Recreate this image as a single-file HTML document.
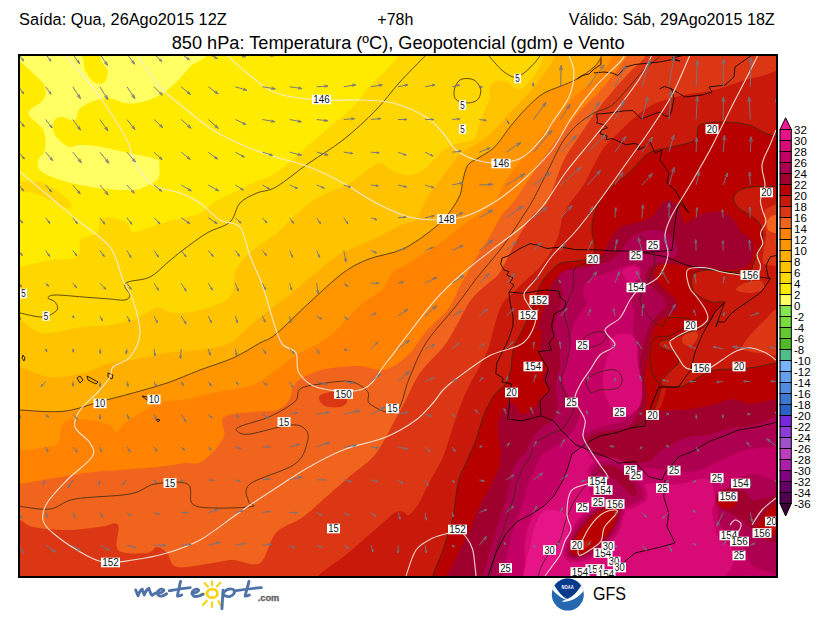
<!DOCTYPE html><html><head><meta charset="utf-8"><title>850 hPa</title><style>html,body{margin:0;padding:0;background:#fff}svg{display:block}</style></head><body>
<svg width="828" height="618" viewBox="0 0 828 618" font-family="'Liberation Sans', sans-serif">
<defs><clipPath id="m"><rect x="20" y="56" width="756" height="520"/></clipPath></defs>
<rect width="828" height="618" fill="#fff"/>
<g clip-path="url(#m)">
<rect x="10" y="46" width="780" height="544" fill="#ffeb00"/>
<path d="M18.3,53.3 C27.7,52.1 64.9,50.6 76.0,53.3 C87.1,56.1 82.1,65.2 85.0,70.0 C87.9,74.8 90.5,79.9 93.7,82.0 C96.8,84.1 101.6,84.3 104.0,82.7 C106.4,81.0 107.5,76.9 108.0,72.0 C108.5,67.1 91.4,56.4 107.0,53.3 C122.6,50.2 187.8,51.1 201.7,53.3 C215.5,55.6 194.2,61.9 190.0,66.7 C185.8,71.4 181.7,76.9 176.7,81.7 C171.7,86.4 165.6,91.7 160.0,95.0 C154.4,98.3 148.9,100.3 143.3,101.7 C137.8,103.1 132.2,103.9 126.7,103.3 C121.1,102.8 115.0,98.9 110.0,98.3 C105.0,97.8 101.7,98.3 96.7,100.0 C91.7,101.7 83.6,105.0 80.0,108.3 C76.4,111.7 78.3,118.6 75.0,120.0 C71.7,121.4 63.6,116.1 60.0,116.7 C56.4,117.2 54.2,120.3 53.3,123.3 C52.5,126.4 52.5,131.1 55.0,135.0 C57.5,138.9 64.2,145.0 68.3,146.7 C72.5,148.3 74.7,145.0 80.0,145.0 C85.3,145.0 91.1,145.2 100.0,146.7 C108.9,148.2 123.9,151.9 133.3,154.0 C142.8,156.1 152.3,157.5 156.7,159.3 C161.0,161.2 159.1,161.8 159.3,165.0 C159.6,168.2 160.2,175.0 158.3,178.3 C156.5,181.7 152.5,183.1 148.3,185.0 C144.2,186.9 141.4,189.4 133.3,190.0 C125.3,190.6 111.1,189.7 100.0,188.3 C88.9,186.9 76.4,184.4 66.7,181.7 C56.9,178.9 46.4,175.3 41.7,171.7 C36.9,168.1 37.8,163.6 38.3,160.0 C38.9,156.4 44.2,155.0 45.0,150.0 C45.8,145.0 46.1,136.1 43.3,130.0 C40.6,123.9 28.3,118.3 28.3,113.3 C28.3,108.3 40.6,104.4 43.3,100.0 C46.1,95.6 46.7,91.1 45.0,86.7 C43.3,82.2 37.5,77.7 33.3,73.3 C29.2,69.0 22.5,64.0 20.0,60.7 C17.5,57.3 9.0,54.6 18.3,53.3Z" fill="#ffff64"/>
<path d="M10.0,267.0 C11.7,267.0 13.3,268.2 20.0,267.0 C26.7,265.8 40.5,261.7 50.0,260.0 C59.5,258.3 72.0,260.3 77.0,257.0 C82.0,253.7 77.8,243.5 80.0,240.0 C82.2,236.5 87.0,237.3 90.0,236.0 C93.0,234.7 96.3,234.7 98.0,232.0 C99.7,229.3 98.0,222.5 100.0,220.0 C102.0,217.5 105.5,216.5 110.0,217.0 C114.5,217.5 123.2,220.5 127.0,223.0 C130.8,225.5 129.2,231.3 133.0,232.0 C136.8,232.7 143.3,229.0 150.0,227.0 C156.7,225.0 164.7,222.3 173.0,220.0 C181.3,217.7 192.7,216.3 200.0,213.0 C207.3,209.7 211.5,203.3 217.0,200.0 C222.5,196.7 227.0,195.8 233.0,193.0 C239.0,190.2 245.8,186.3 253.0,183.0 C260.2,179.7 267.7,178.5 276.0,173.0 C284.3,167.5 294.7,157.2 303.0,150.0 C311.3,142.8 317.7,137.2 326.0,130.0 C334.3,122.8 345.8,114.2 353.0,107.0 C360.2,99.8 363.5,93.2 369.0,87.0 C374.5,80.8 381.0,75.3 386.0,70.0 C391.0,64.7 396.3,59.0 399.0,55.0 C401.7,51.0 401.5,47.5 402.0,46.0 L790.0,46.0 L790.0,590.0 L10.0,590.0Z" fill="#ffd700"/>
<path d="M10.0,183.0 C15.5,181.8 33.0,179.8 43.0,183.0 C53.0,186.2 66.0,197.8 70.0,202.0 C74.0,206.2 70.3,208.3 67.0,208.0 C63.7,207.7 55.7,202.5 50.0,200.0 C44.3,197.5 39.7,194.7 33.0,193.0 C26.3,191.3 13.8,191.7 10.0,190.0 C6.2,188.3 4.5,184.2 10.0,183.0Z" fill="#ffd700"/>
<path d="M10.0,320.0 C11.7,320.0 14.5,317.8 20.0,320.0 C25.5,322.2 32.5,331.8 43.0,333.0 C53.5,334.2 71.8,328.3 83.0,327.0 C94.2,325.7 101.7,326.2 110.0,325.0 C118.3,323.8 125.2,322.8 133.0,320.0 C140.8,317.2 150.3,309.2 157.0,308.0 C163.7,306.8 165.8,312.7 173.0,313.0 C180.2,313.3 190.5,312.7 200.0,310.0 C209.5,307.3 224.0,303.7 230.0,297.0 C236.0,290.3 232.2,277.8 236.0,270.0 C239.8,262.2 246.3,256.0 253.0,250.0 C259.7,244.0 269.1,239.7 276.0,234.0 C282.9,228.3 288.3,221.6 294.5,216.0 C300.7,210.4 307.2,204.4 313.0,200.5 C318.8,196.6 323.2,195.2 329.0,192.5 C334.8,189.8 341.5,188.1 347.7,184.5 C353.9,180.9 360.7,174.6 366.0,171.0 C371.3,167.4 375.0,163.0 379.5,163.0 C384.0,163.0 388.1,169.0 393.0,171.0 C397.9,173.0 404.0,175.2 409.0,175.0 C414.0,174.8 418.7,172.7 423.0,170.0 C427.3,167.3 431.3,162.5 435.0,159.0 C438.7,155.5 441.2,151.7 445.0,149.0 C448.8,146.3 453.2,144.7 458.0,143.0 C462.8,141.3 470.7,141.5 474.0,139.0 C477.3,136.5 476.5,132.2 478.0,128.0 C479.5,123.8 481.2,118.7 483.0,114.0 C484.8,109.3 487.8,104.5 489.0,100.0 C490.2,95.5 488.7,90.2 490.0,87.0 C491.3,83.8 493.8,81.7 497.0,81.0 C500.2,80.3 505.8,81.7 509.0,83.0 C512.2,84.3 513.5,88.3 516.0,89.0 C518.5,89.7 520.7,89.7 524.0,87.0 C527.3,84.3 532.7,78.2 536.0,73.0 C539.3,67.8 542.3,60.5 544.0,56.0 C545.7,51.5 545.7,47.7 546.0,46.0 L790.0,46.0 L790.0,590.0 L10.0,590.0Z" fill="#ffc300"/>
<path d="M10.0,367.0 C11.7,367.0 13.3,365.3 20.0,367.0 C26.7,368.7 39.5,376.0 50.0,377.0 C60.5,378.0 73.0,375.3 83.0,373.0 C93.0,370.7 101.7,365.2 110.0,363.0 C118.3,360.8 123.5,361.7 133.0,360.0 C142.5,358.3 155.8,354.7 167.0,353.0 C178.2,351.3 189.5,351.7 200.0,350.0 C210.5,348.3 221.2,347.5 230.0,343.0 C238.8,338.5 245.3,329.3 253.0,323.0 C260.7,316.7 269.1,310.3 276.0,305.0 C282.9,299.7 288.3,296.0 294.5,291.0 C300.7,286.0 305.9,280.8 313.0,275.0 C320.1,269.2 330.3,260.5 337.0,256.0 C343.7,251.5 347.2,250.7 353.0,248.0 C358.8,245.3 365.9,242.7 371.6,240.0 C377.4,237.3 382.2,234.7 387.5,232.0 C392.8,229.3 398.6,226.2 403.5,224.0 C408.4,221.8 412.8,223.3 416.7,219.0 C420.6,214.7 422.6,205.2 427.0,198.0 C431.4,190.8 438.3,182.3 443.0,176.0 C447.7,169.7 451.2,164.3 455.0,160.0 C458.8,155.7 462.2,152.8 466.0,150.0 C469.8,147.2 473.5,146.1 478.0,143.0 C482.5,139.9 487.9,136.3 493.0,131.5 C498.1,126.7 503.5,119.5 508.7,114.0 C513.9,108.5 519.5,103.3 524.0,98.5 C528.5,93.7 532.1,89.8 536.0,85.0 C539.9,80.2 544.4,74.2 547.6,69.4 C550.8,64.6 553.3,59.9 555.0,56.0 C556.7,52.1 557.5,47.7 558.0,46.0 L790.0,46.0 L790.0,590.0 L10.0,590.0Z" fill="#ffaf00"/>
<path d="M10.0,410.0 C11.7,410.0 13.3,409.7 20.0,410.0 C26.7,410.3 41.4,411.7 50.0,411.7 C58.6,411.7 63.4,411.7 71.7,410.0 C80.0,408.3 89.8,404.5 100.0,401.7 C110.2,398.9 121.8,396.1 133.0,393.0 C144.2,389.9 155.8,386.8 167.0,383.0 C178.2,379.2 189.0,374.2 200.0,370.0 C211.0,365.8 223.0,362.5 233.0,358.0 C243.0,353.5 252.8,347.0 260.0,343.0 C267.2,339.0 267.8,340.7 276.0,334.0 C284.2,327.3 297.8,313.2 309.0,303.0 C320.2,292.8 333.0,280.3 343.0,273.0 C353.0,265.7 359.0,263.0 369.0,259.0 C379.0,255.0 392.3,254.0 403.0,249.0 C413.7,244.0 425.3,235.0 433.0,229.0 C440.7,223.0 444.5,218.7 449.0,213.0 C453.5,207.3 457.7,200.5 460.0,195.0 C462.3,189.5 461.7,185.0 463.0,180.0 C464.3,175.0 465.2,168.8 468.0,165.0 C470.8,161.2 475.6,160.0 480.0,157.0 C484.4,154.0 489.4,152.3 494.6,147.0 C499.9,141.7 505.9,131.8 511.5,125.0 C517.1,118.2 523.2,111.2 528.5,106.0 C533.8,100.8 537.8,97.0 543.0,93.7 C548.2,90.4 554.3,88.9 560.0,86.4 C565.7,84.0 571.3,82.2 577.0,79.0 C582.7,75.8 590.0,70.7 594.0,67.0 C598.0,63.3 599.3,60.5 601.0,57.0 C602.7,53.5 603.5,47.8 604.0,46.0 L790.0,46.0 L790.0,590.0 L10.0,590.0Z" fill="#ff9600"/>
<path d="M10.0,451.0 C11.7,451.0 14.2,451.7 20.0,451.0 C25.8,450.3 38.7,448.3 45.0,447.0 C51.3,445.7 55.0,446.8 58.0,443.0 C61.0,439.2 59.7,428.0 63.0,424.0 C66.3,420.0 70.7,419.0 78.0,419.0 C85.3,419.0 100.6,421.9 107.0,424.0 C113.4,426.1 113.3,431.8 116.5,431.5 C119.7,431.2 121.2,425.6 126.0,422.0 C130.8,418.4 140.4,413.2 145.6,410.0 C150.8,406.8 150.1,404.8 157.0,403.0 C163.9,401.2 177.0,400.8 187.0,399.0 C197.0,397.2 206.0,394.3 217.0,392.0 C228.0,389.7 243.2,388.7 253.0,385.0 C262.8,381.3 268.8,375.0 276.0,370.0 C283.2,365.0 287.7,360.2 296.0,355.0 C304.3,349.8 318.2,344.3 326.0,339.0 C333.8,333.7 336.8,329.0 343.0,323.0 C349.2,317.0 356.3,308.7 363.0,303.0 C369.7,297.3 378.2,294.0 383.0,289.0 C387.8,284.0 387.7,277.3 392.0,273.0 C396.3,268.7 401.0,268.0 409.0,263.0 C417.0,258.0 432.4,248.2 440.0,243.0 C447.6,237.8 449.2,235.5 454.5,231.5 C459.8,227.5 465.8,223.1 471.5,219.0 C477.2,214.9 484.2,210.5 488.5,207.0 C492.8,203.5 494.1,202.5 497.0,198.0 C499.9,193.5 502.0,186.3 506.0,180.0 C510.0,173.7 516.0,166.3 521.0,160.0 C526.0,153.7 530.7,148.5 536.0,142.0 C541.3,135.5 547.3,127.8 553.0,121.0 C558.7,114.2 564.3,106.8 570.0,101.0 C575.7,95.2 581.8,90.5 587.0,86.0 C592.2,81.5 596.8,78.8 601.0,74.0 C605.2,69.2 609.7,61.7 612.0,57.0 C614.3,52.3 614.5,47.8 615.0,46.0 L790.0,46.0 L790.0,590.0 L10.0,590.0Z" fill="#ff8200"/>
<path d="M10.0,484.0 C11.7,484.0 13.6,484.8 20.0,484.0 C26.4,483.2 39.7,480.5 48.5,479.0 C57.3,477.5 64.9,476.2 73.0,475.0 C81.1,473.8 89.0,472.4 97.0,471.6 C105.0,470.8 112.9,470.6 121.0,470.0 C129.1,469.4 137.4,468.8 145.6,468.0 C153.8,467.2 163.5,466.3 170.0,465.5 C176.5,464.7 179.7,463.4 184.5,463.0 C189.3,462.6 194.4,464.7 199.0,463.0 C203.6,461.3 207.8,457.5 212.0,453.0 C216.2,448.5 222.0,442.0 224.0,436.0 C226.0,430.0 219.2,421.0 224.0,417.0 C228.8,413.0 244.2,413.2 253.0,412.0 C261.8,410.8 271.0,412.0 277.0,410.0 C283.0,408.0 286.3,403.7 289.0,400.0 C291.7,396.3 290.8,391.7 293.0,388.0 C295.2,384.3 296.5,381.2 302.0,378.0 C307.5,374.8 316.5,371.0 326.0,369.0 C335.5,367.0 350.2,365.8 359.0,366.0 C367.8,366.2 373.8,369.7 379.0,370.0 C384.2,370.3 386.3,369.5 390.0,368.0 C393.7,366.5 397.2,364.0 401.0,361.0 C404.8,358.0 408.8,354.5 412.6,350.0 C416.4,345.5 420.3,338.6 424.0,334.0 C427.7,329.4 431.2,326.4 435.0,322.6 C438.8,318.8 443.8,314.9 447.0,311.0 C450.2,307.1 451.8,303.2 454.0,299.0 C456.2,294.8 457.7,290.5 460.0,286.0 C462.3,281.5 465.0,277.2 468.0,272.0 C471.0,266.8 474.5,260.7 478.0,255.0 C481.5,249.3 485.2,244.3 489.0,238.0 C492.8,231.7 496.4,223.3 500.7,217.0 C505.0,210.7 510.1,206.5 515.0,200.0 C519.9,193.5 525.0,185.3 530.0,178.0 C535.0,170.7 539.7,163.5 545.0,156.0 C550.3,148.5 556.2,140.5 562.0,133.0 C567.8,125.5 574.0,117.7 580.0,111.0 C586.0,104.3 592.3,99.2 598.0,93.0 C603.7,86.8 609.3,80.0 614.0,74.0 C618.7,68.0 623.5,61.7 626.0,57.0 C628.5,52.3 628.5,47.8 629.0,46.0 L790.0,46.0 L790.0,590.0 L10.0,590.0Z" fill="#f0641e"/>
<path d="M319.0,397.0 C319.8,394.7 325.8,392.5 330.0,392.0 C334.2,391.5 341.2,392.3 344.0,394.0 C346.8,395.7 347.7,399.8 347.0,402.0 C346.3,404.2 343.7,406.3 340.0,407.0 C336.3,407.7 328.5,407.7 325.0,406.0 C321.5,404.3 318.2,399.3 319.0,397.0Z" fill="#dc3714"/>
<path d="M10.0,520.0 C11.7,520.0 16.2,518.8 20.0,520.0 C23.8,521.2 25.2,525.3 33.0,527.0 C40.8,528.7 55.8,530.0 67.0,530.0 C78.2,530.0 91.5,527.8 100.0,527.0 C108.5,526.2 115.0,521.2 118.0,525.0 C121.0,528.8 113.2,545.3 118.0,550.0 C122.8,554.7 140.5,553.5 147.0,553.0 C153.5,552.5 153.7,547.0 157.0,547.0 C160.3,547.0 163.7,549.7 167.0,553.0 C170.3,556.3 169.3,565.3 177.0,567.0 C184.7,568.7 203.7,564.2 213.0,563.0 C222.3,561.8 225.2,560.0 233.0,560.0 C240.8,560.0 252.8,567.5 260.0,563.0 C267.2,558.5 268.8,540.7 276.0,533.0 C283.2,525.3 294.7,523.0 303.0,517.0 C311.3,511.0 318.3,503.7 326.0,497.0 C333.7,490.3 341.2,483.7 349.0,477.0 C356.8,470.3 366.8,463.7 373.0,457.0 C379.2,450.3 382.2,443.5 386.0,437.0 C389.8,430.5 392.8,423.8 396.0,418.0 C399.2,412.2 401.0,409.5 405.0,402.0 C409.0,394.5 413.5,382.3 420.0,373.0 C426.5,363.7 437.7,354.3 444.0,346.0 C450.3,337.7 453.7,330.5 458.0,323.0 C462.3,315.5 465.5,307.2 470.0,301.0 C474.5,294.8 480.3,290.3 485.0,286.0 C489.7,281.7 494.7,278.8 498.0,275.0 C501.3,271.2 502.8,267.0 505.0,263.0 C507.2,259.0 508.5,255.8 511.0,251.0 C513.5,246.2 516.3,240.0 520.0,234.0 C523.7,228.0 528.5,220.2 533.0,215.0 C537.5,209.8 543.2,208.8 547.0,203.0 C550.8,197.2 553.0,187.5 556.0,180.0 C559.0,172.5 561.0,165.5 565.0,158.0 C569.0,150.5 575.0,142.5 580.0,135.0 C585.0,127.5 589.7,120.2 595.0,113.0 C600.3,105.8 606.2,98.8 612.0,92.0 C617.8,85.2 624.5,77.8 630.0,72.0 C635.5,66.2 642.0,61.3 645.0,57.0 C648.0,52.7 647.5,47.8 648.0,46.0 L790.0,46.0 L790.0,590.0 L10.0,590.0Z" fill="#dc3714"/>
<path d="M310.0,590.0 C311.5,587.5 313.5,580.5 319.0,575.0 C324.5,569.5 335.7,562.8 343.0,557.0 C350.3,551.2 355.8,546.2 363.0,540.0 C370.2,533.8 380.5,524.7 386.0,520.0 C391.5,515.3 393.0,513.3 396.0,512.0 C399.0,510.7 401.8,511.5 404.0,512.0 C406.2,512.5 406.5,516.5 409.0,515.0 C411.5,513.5 415.7,508.3 419.0,503.0 C422.3,497.7 425.0,490.7 429.0,483.0 C433.0,475.3 439.2,465.8 443.0,457.0 C446.8,448.2 449.2,438.3 452.0,430.0 C454.8,421.7 457.2,414.3 460.0,407.0 C462.8,399.7 465.5,393.2 469.0,386.0 C472.5,378.8 477.7,370.5 481.0,364.0 C484.3,357.5 486.7,353.7 489.0,347.0 C491.3,340.3 492.8,331.2 495.0,324.0 C497.2,316.8 499.0,309.2 502.0,304.0 C505.0,298.8 509.5,296.6 513.0,293.0 C516.5,289.4 519.0,286.3 523.0,282.5 C527.0,278.7 533.0,274.1 537.0,270.0 C541.0,265.9 544.2,262.0 547.0,258.0 C549.8,254.0 552.0,250.0 554.0,246.0 C556.0,242.0 557.7,238.5 559.0,234.0 C560.3,229.5 560.2,224.2 562.0,219.0 C563.8,213.8 566.5,208.5 570.0,203.0 C573.5,197.5 579.0,192.3 583.0,186.0 C587.0,179.7 590.7,171.2 594.0,165.0 C597.3,158.8 599.3,154.0 603.0,149.0 C606.7,144.0 610.8,140.2 616.0,135.0 C621.2,129.8 628.0,123.0 634.0,118.0 C640.0,113.0 645.7,108.3 652.0,105.0 C658.3,101.7 665.7,99.8 672.0,98.0 C678.3,96.2 684.5,95.0 690.0,94.0 C695.5,93.0 699.2,93.2 705.0,92.0 C710.8,90.8 718.3,89.0 725.0,87.0 C731.7,85.0 738.3,82.0 745.0,80.0 C751.7,78.0 759.3,76.7 765.0,75.0 C770.7,73.3 774.8,71.2 779.0,70.0 C783.2,68.8 788.2,68.3 790.0,68.0 L790.0,590.0Z" fill="#c8190a"/>
<path d="M790.0,137.0 C788.2,137.0 783.2,137.7 779.0,137.0 C774.8,136.3 770.0,135.0 765.0,133.0 C760.0,131.0 755.7,126.8 749.0,125.0 C742.3,123.2 733.2,122.0 725.0,122.0 C716.8,122.0 705.0,122.0 700.0,125.0 C695.0,128.0 699.7,136.3 695.0,140.0 C690.3,143.7 679.7,144.8 672.0,147.0 C664.3,149.2 656.2,148.7 649.0,153.0 C641.8,157.3 636.3,166.3 629.0,173.0 C621.7,179.7 610.8,186.0 605.0,193.0 C599.2,200.0 596.2,208.5 594.0,215.0 C591.8,221.5 591.8,226.5 592.0,232.0 C592.2,237.5 595.3,243.7 595.0,248.0 C594.7,252.3 593.2,255.8 590.0,258.0 C586.8,260.2 580.8,260.2 576.0,261.0 C571.2,261.8 565.0,261.5 561.0,263.0 C557.0,264.5 555.2,266.8 552.0,270.0 C548.8,273.2 544.7,277.5 542.0,282.0 C539.3,286.5 538.0,291.7 536.0,297.0 C534.0,302.3 532.3,308.3 530.0,314.0 C527.7,319.7 524.8,325.0 522.0,331.0 C519.2,337.0 514.8,343.5 513.0,350.0 C511.2,356.5 512.3,364.2 511.0,370.0 C509.7,375.8 507.0,381.7 505.0,385.0 C503.0,388.3 501.0,388.0 499.0,390.0 C497.0,392.0 495.7,392.5 493.0,397.0 C490.3,401.5 485.8,409.8 483.0,417.0 C480.2,424.2 478.8,432.3 476.0,440.0 C473.2,447.7 469.0,455.8 466.0,463.0 C463.0,470.2 460.2,474.0 458.0,483.0 C455.8,492.0 455.5,505.8 453.0,517.0 C450.5,528.2 446.3,540.3 443.0,550.0 C439.7,559.7 435.2,568.3 433.0,575.0 C430.8,581.7 430.5,587.5 430.0,590.0 L790.0,590.0Z" fill="#b90000"/>
<path d="M613.0,235.0 C616.5,230.3 618.7,228.2 623.0,226.0 C627.3,223.8 634.0,223.7 639.0,222.0 C644.0,220.3 649.7,218.5 653.0,216.0 C656.3,213.5 656.5,209.7 659.0,207.0 C661.5,204.3 664.7,200.0 668.0,200.0 C671.3,200.0 676.2,203.2 679.0,207.0 C681.8,210.8 681.7,221.7 685.0,223.0 C688.3,224.3 694.5,216.8 699.0,215.0 C703.5,213.2 707.8,212.3 712.0,212.0 C716.2,211.7 720.3,211.7 724.0,213.0 C727.7,214.3 731.2,216.8 734.0,220.0 C736.8,223.2 737.8,228.3 741.0,232.0 C744.2,235.7 751.2,237.5 753.0,242.0 C754.8,246.5 753.2,254.8 752.0,259.0 C750.8,263.2 749.7,265.2 746.0,267.0 C742.3,268.8 735.7,269.7 730.0,270.0 C724.3,270.3 717.0,269.0 712.0,269.0 C707.0,269.0 704.5,270.5 700.0,270.0 C695.5,269.5 690.3,267.0 685.0,266.0 C679.7,265.0 672.7,263.8 668.0,264.0 C663.3,264.2 659.2,264.8 657.0,267.0 C654.8,269.2 654.0,273.5 655.0,277.0 C656.0,280.5 659.7,284.3 663.0,288.0 C666.3,291.7 672.7,295.7 675.0,299.0 C677.3,302.3 677.8,305.3 677.0,308.0 C676.2,310.7 673.0,312.8 670.0,315.0 C667.0,317.2 662.0,317.8 659.0,321.0 C656.0,324.2 653.7,329.0 652.0,334.0 C650.3,339.0 650.2,344.2 649.0,351.0 C647.8,357.8 645.3,367.0 645.0,375.0 C644.7,383.0 647.0,392.2 647.0,399.0 C647.0,405.8 642.7,414.0 645.0,416.0 C647.3,418.0 653.3,412.2 661.0,411.0 C668.7,409.8 682.0,410.2 691.0,409.0 C700.0,407.8 708.2,405.7 715.0,404.0 C721.8,402.3 726.0,399.0 732.0,399.0 C738.0,399.0 745.3,403.7 751.0,404.0 C756.7,404.3 761.8,401.8 766.0,401.0 C770.2,400.2 772.0,399.5 776.0,399.0 C780.0,398.5 787.7,366.2 790.0,398.0 C792.3,429.8 847.7,558.0 790.0,590.0 C732.3,622.0 501.2,592.4 444.0,590.0 C386.8,587.6 445.7,579.6 447.0,575.6 C448.3,571.6 449.6,570.9 452.0,566.0 C454.4,561.1 458.3,553.0 461.5,546.5 C464.7,540.0 467.8,534.2 471.0,527.0 C474.2,519.8 478.2,509.0 481.0,503.0 C483.8,497.0 485.6,495.3 487.8,491.2 C490.0,487.1 492.3,482.6 494.2,478.3 C496.1,474.0 498.3,469.6 499.4,465.3 C500.5,461.0 500.8,456.7 500.7,452.4 C500.6,448.1 499.2,443.5 498.8,439.4 C498.4,435.3 498.1,431.2 498.0,428.0 C497.9,424.8 497.8,422.7 498.5,420.0 C499.2,417.3 500.4,414.7 502.0,412.0 C503.6,409.3 506.3,405.6 508.0,404.0 C509.7,402.4 510.5,401.8 512.0,402.5 C513.5,403.2 515.5,406.1 517.0,408.0 C518.5,409.9 519.5,413.2 521.0,414.0 C522.5,414.8 524.2,413.8 526.0,413.0 C527.8,412.2 530.2,410.3 532.0,409.0 C533.8,407.7 535.7,406.5 537.0,405.0 C538.3,403.5 538.8,401.7 540.0,400.0 C541.2,398.3 542.5,396.7 544.0,395.0 C545.5,393.3 549.2,392.8 549.0,390.0 C548.8,387.2 543.3,382.5 543.0,378.5 C542.7,374.5 547.5,370.4 547.0,366.0 C546.5,361.6 540.8,358.0 540.0,352.0 C539.2,346.0 542.5,333.5 542.0,330.0 C541.5,326.5 537.0,333.7 537.0,331.0 C537.0,328.3 540.3,319.7 542.0,314.0 C543.7,308.3 545.5,301.8 547.0,297.0 C548.5,292.2 548.7,289.0 551.0,285.0 C553.3,281.0 557.7,275.8 561.0,273.0 C564.3,270.2 566.2,269.5 571.0,268.0 C575.8,266.5 584.8,266.3 590.0,264.0 C595.2,261.7 598.2,258.8 602.0,254.0 C605.8,249.2 609.5,239.7 613.0,235.0Z" fill="#a0002d"/>
<path d="M481.0,590.0 C429.8,587.6 481.5,582.1 483.0,575.6 C484.5,569.1 487.7,559.1 490.0,551.0 C492.3,542.9 494.5,535.0 497.0,527.0 C499.5,519.0 503.1,509.6 505.0,503.0 C506.9,496.4 507.5,492.1 508.5,487.3 C509.5,482.5 509.7,478.5 511.0,474.4 C512.3,470.3 513.8,466.4 516.2,462.7 C518.6,459.0 522.9,455.8 525.3,452.4 C527.7,448.9 528.8,445.2 530.5,442.0 C532.2,438.8 533.3,435.8 535.7,433.0 C538.1,430.2 542.1,427.7 545.0,425.5 C547.9,423.3 551.0,422.2 553.0,420.0 C555.0,417.8 556.2,414.8 557.0,412.0 C557.8,409.2 557.7,406.2 557.5,403.0 C557.3,399.8 556.2,397.1 556.0,393.0 C555.8,388.9 555.8,383.0 556.5,378.5 C557.2,374.0 559.6,371.6 560.0,366.0 C560.4,360.4 560.0,350.6 559.0,344.6 C558.0,338.6 554.3,335.3 554.0,330.0 C553.7,324.7 555.5,318.5 557.0,313.0 C558.5,307.5 562.5,303.5 563.0,297.0 C563.5,290.5 556.7,278.8 560.0,274.0 C563.3,269.2 575.2,270.0 583.0,268.0 C590.8,266.0 600.8,264.7 607.0,262.0 C613.2,259.3 616.5,255.5 620.0,252.0 C623.5,248.5 624.8,244.2 628.0,241.0 C631.2,237.8 634.5,234.8 639.0,233.0 C643.5,231.2 649.5,229.3 655.0,230.0 C660.5,230.7 668.2,233.7 672.0,237.0 C675.8,240.3 677.8,246.5 678.0,250.0 C678.2,253.5 676.0,256.0 673.0,258.0 C670.0,260.0 664.0,260.3 660.0,262.0 C656.0,263.7 651.3,265.5 649.0,268.0 C646.7,270.5 645.3,273.7 646.0,277.0 C646.7,280.3 650.0,284.3 653.0,288.0 C656.0,291.7 662.2,295.7 664.0,299.0 C665.8,302.3 666.0,304.3 664.0,308.0 C662.0,311.7 655.2,316.0 652.0,321.0 C648.8,326.0 647.0,331.0 645.0,338.0 C643.0,345.0 640.5,354.8 640.0,363.0 C639.5,371.2 642.0,379.8 642.0,387.0 C642.0,394.2 642.0,399.5 640.0,406.0 C638.0,412.5 634.2,422.0 630.0,426.0 C625.8,430.0 620.0,429.0 615.0,430.0 C610.0,431.0 604.5,430.8 600.0,432.0 C595.5,433.2 590.0,434.8 588.0,437.0 C586.0,439.2 585.8,441.9 588.0,445.0 C590.2,448.1 595.3,452.5 601.5,455.5 C607.7,458.5 617.1,462.1 625.0,463.0 C632.9,463.9 643.1,462.8 648.8,461.0 C654.5,459.2 655.6,454.5 659.0,452.0 C662.4,449.5 664.7,448.3 669.0,446.0 C673.3,443.7 679.3,439.7 685.0,438.0 C690.7,436.3 698.0,436.4 703.0,435.6 C708.0,434.8 710.2,434.3 715.0,433.0 C719.8,431.7 726.0,429.2 732.0,428.0 C738.0,426.8 745.3,427.2 751.0,426.0 C756.7,424.8 761.8,422.7 766.0,421.0 C770.2,419.3 772.0,417.2 776.0,416.0 C780.0,414.8 787.7,385.0 790.0,414.0 C792.3,443.0 841.5,560.7 790.0,590.0 C738.5,619.3 532.2,592.4 481.0,590.0Z" fill="#ae0050"/>
<path d="M501.0,590.0 C453.2,587.6 501.8,582.1 503.0,575.6 C504.2,569.1 506.2,559.1 508.0,551.0 C509.8,542.9 511.5,535.0 514.0,527.0 C516.5,519.0 520.7,510.1 523.0,503.0 C525.3,495.9 526.2,489.5 527.9,484.7 C529.6,479.9 531.5,477.8 533.0,474.4 C534.5,470.9 535.3,467.4 537.0,464.0 C538.7,460.6 540.8,456.3 543.4,453.7 C546.0,451.1 549.4,450.6 552.5,448.5 C555.6,446.4 558.8,443.8 562.0,441.0 C565.2,438.2 569.0,436.3 572.0,432.0 C575.0,427.7 579.3,419.8 580.0,415.0 C580.7,410.2 577.9,406.2 576.0,403.0 C574.1,399.8 570.8,399.6 568.6,395.5 C566.4,391.4 563.3,384.1 563.0,378.5 C562.7,372.9 566.0,367.2 567.0,361.6 C568.0,356.0 568.2,349.9 569.0,344.6 C569.8,339.3 570.8,334.1 572.0,330.0 C573.2,325.9 574.3,323.2 576.0,320.0 C577.7,316.8 580.2,313.8 582.0,311.0 C583.8,308.2 586.8,305.7 587.0,303.0 C587.2,300.3 583.2,298.3 583.0,295.0 C582.8,291.7 583.7,286.2 586.0,283.0 C588.3,279.8 593.0,277.8 597.0,276.0 C601.0,274.2 605.8,273.5 610.0,272.0 C614.2,270.5 617.8,268.3 622.0,267.0 C626.2,265.7 631.8,263.7 635.0,264.0 C638.2,264.3 640.3,266.5 641.0,269.0 C641.7,271.5 640.7,276.5 639.0,279.0 C637.3,281.5 632.7,281.7 631.0,284.0 C629.3,286.3 628.8,289.8 629.0,293.0 C629.2,296.2 631.2,299.0 632.0,303.0 C632.8,307.0 633.8,312.3 634.0,317.0 C634.2,321.7 632.7,326.3 633.0,331.0 C633.3,335.7 635.5,339.8 636.0,345.0 C636.5,350.2 635.7,357.0 636.0,362.0 C636.3,367.0 637.3,370.3 638.0,375.0 C638.7,379.7 640.2,384.5 640.0,390.0 C639.8,395.5 639.5,403.0 637.0,408.0 C634.5,413.0 630.3,417.0 625.0,420.0 C619.7,423.0 611.2,424.0 605.0,426.0 C598.8,428.0 591.7,429.7 588.0,432.0 C584.3,434.3 582.7,436.7 583.0,440.0 C583.3,443.3 587.0,448.3 590.0,452.0 C593.0,455.7 595.2,459.0 601.0,462.0 C606.8,465.0 617.0,469.0 625.0,470.0 C633.0,471.0 643.0,468.0 649.0,468.0 C655.0,468.0 655.8,469.3 661.0,470.0 C666.2,470.7 673.5,472.0 680.0,472.0 C686.5,472.0 694.2,471.5 700.0,470.0 C705.8,468.5 710.3,465.2 715.0,463.0 C719.7,460.8 723.5,459.0 728.0,457.0 C732.5,455.0 736.7,452.5 742.0,451.0 C747.3,449.5 754.3,448.7 760.0,448.0 C765.7,447.3 771.0,447.3 776.0,447.0 C781.0,446.7 787.7,422.2 790.0,446.0 C792.3,469.8 838.2,566.0 790.0,590.0 C741.8,614.0 548.8,592.4 501.0,590.0Z" fill="#c40064"/>
<path d="M527.0,590.0 C493.8,587.6 527.4,581.3 527.0,575.6 C526.6,569.9 525.0,561.9 524.7,556.0 C524.4,550.1 524.3,545.2 525.0,540.0 C525.7,534.8 527.3,529.5 529.0,525.0 C530.7,520.5 532.5,516.2 535.0,513.0 C537.5,509.8 540.8,508.8 544.0,506.0 C547.2,503.2 550.7,500.5 554.0,496.0 C557.3,491.5 561.4,483.8 563.7,479.0 C566.0,474.2 566.6,471.2 568.0,467.0 C569.4,462.8 569.8,457.1 572.0,453.8 C574.2,450.5 578.2,446.3 581.5,447.0 C584.8,447.7 588.4,454.2 592.0,458.0 C595.6,461.8 599.7,465.0 603.0,470.0 C606.3,475.0 608.2,485.3 612.0,488.0 C615.8,490.7 621.3,486.5 626.0,486.0 C630.7,485.5 635.3,485.5 640.0,485.0 C644.7,484.5 649.5,483.0 654.0,483.0 C658.5,483.0 661.8,485.0 667.0,485.0 C672.2,485.0 679.0,484.1 685.0,483.0 C691.0,481.9 698.4,478.2 703.0,478.5 C707.6,478.8 710.5,481.6 712.5,485.0 C714.5,488.4 715.0,494.4 715.0,499.0 C715.0,503.6 712.5,508.0 712.5,512.5 C712.5,517.0 713.9,521.4 715.0,526.0 C716.1,530.6 716.4,536.6 719.0,540.0 C721.6,543.4 727.9,543.5 730.6,546.5 C733.3,549.5 735.0,554.2 735.0,558.0 C735.0,561.8 732.1,566.0 730.6,569.0 C729.1,572.0 726.8,572.5 726.0,576.0 C725.2,579.5 759.2,587.7 726.0,590.0 C692.8,592.3 560.2,592.4 527.0,590.0Z" fill="#d80a76"/>
<path d="M613.0,337.0 C616.7,333.5 626.0,332.7 630.0,334.0 C634.0,335.3 635.7,339.8 637.0,345.0 C638.3,350.2 637.2,358.3 638.0,365.0 C638.8,371.7 641.7,378.3 642.0,385.0 C642.3,391.7 642.3,400.0 640.0,405.0 C637.7,410.0 632.2,414.2 628.0,415.0 C623.8,415.8 618.8,413.3 615.0,410.0 C611.2,406.7 607.0,400.8 605.0,395.0 C603.0,389.2 602.5,381.7 603.0,375.0 C603.5,368.3 606.3,361.3 608.0,355.0 C609.7,348.7 609.3,340.5 613.0,337.0Z" fill="#d80a76"/>
<path d="M622.0,272.0 C622.5,269.3 629.0,266.3 632.0,266.0 C635.0,265.7 639.0,267.8 640.0,270.0 C641.0,272.2 639.8,277.0 638.0,279.0 C636.2,281.0 631.7,283.2 629.0,282.0 C626.3,280.8 621.5,274.7 622.0,272.0Z" fill="#d80a76"/>
<path d="M542.0,512.5 C545.2,509.7 550.0,509.6 554.0,510.0 C558.0,510.4 563.6,512.2 566.0,515.0 C568.4,517.8 568.6,523.0 568.6,527.0 C568.6,531.0 567.3,535.0 566.0,539.0 C564.7,543.0 563.0,546.9 561.0,551.0 C559.0,555.1 556.3,559.8 554.0,563.5 C551.7,567.2 549.8,568.6 547.0,573.0 C544.2,577.4 541.2,587.2 537.0,590.0 C532.8,592.8 524.0,594.0 522.0,590.0 C520.0,586.0 523.7,573.2 525.0,566.0 C526.3,558.8 528.4,553.0 530.0,546.5 C531.6,540.0 532.6,532.7 534.6,527.0 C536.6,521.3 538.8,515.3 542.0,512.5Z" fill="#e61487"/>
<path d="M790.0,186.0 C787.7,157.1 780.5,186.3 776.0,186.4 C771.5,186.5 767.5,186.2 762.8,186.4 C758.1,186.6 752.0,186.8 748.0,187.6 C744.0,188.4 740.9,189.2 738.5,191.0 C736.1,192.8 733.7,195.7 733.7,198.5 C733.7,201.3 735.7,205.2 738.5,208.0 C741.3,210.8 747.1,212.7 750.7,215.5 C754.4,218.3 758.4,220.9 760.4,225.0 C762.4,229.1 763.2,235.0 762.8,239.8 C762.4,244.6 759.6,250.0 758.0,254.0 C756.4,258.0 754.3,261.3 753.0,264.0 C751.7,266.7 753.8,268.7 750.0,270.0 C746.2,271.3 736.3,272.0 730.0,272.0 C723.7,272.0 717.0,270.2 712.0,270.0 C707.0,269.8 703.3,270.0 700.0,271.0 C696.7,272.0 693.2,272.8 692.0,276.0 C690.8,279.2 691.6,286.5 693.0,290.0 C694.4,293.5 697.1,295.0 700.4,297.0 C703.6,299.0 708.5,301.2 712.5,302.0 C716.5,302.8 724.3,300.3 724.7,302.0 C725.1,303.7 717.5,308.8 715.0,312.0 C712.5,315.2 712.4,318.7 710.0,321.5 C707.6,324.3 704.1,327.2 700.4,329.0 C696.7,330.8 692.5,330.9 688.0,332.5 C683.5,334.1 678.1,337.1 673.7,338.5 C669.3,339.9 664.0,339.8 661.5,341.0 C659.0,342.2 657.8,344.4 659.0,346.0 C660.2,347.6 666.0,349.5 668.8,350.7 C671.6,351.9 674.4,350.9 676.0,353.0 C677.6,355.1 678.9,360.6 678.5,363.0 C678.1,365.4 675.7,365.7 673.7,367.7 C671.7,369.7 668.4,372.2 666.4,375.0 C664.4,377.8 659.5,382.7 661.5,384.7 C663.5,386.7 673.6,387.4 678.5,387.0 C683.4,386.6 686.7,384.0 690.7,382.0 C694.8,380.0 698.8,377.0 702.8,375.0 C706.8,373.0 710.1,371.0 715.0,370.0 C719.9,369.0 725.9,369.4 732.0,369.0 C738.1,368.6 745.7,368.4 751.4,367.7 C757.1,367.0 762.0,365.8 766.0,365.0 C770.0,364.2 771.6,363.8 775.6,363.0 C779.6,362.2 787.6,389.5 790.0,360.0 C792.4,330.5 792.3,214.9 790.0,186.0Z" fill="#c8190a"/>
<path d="M654.0,411.0 C653.5,409.7 655.8,403.5 657.0,400.0 C658.2,396.5 659.5,392.0 661.0,390.0 C662.5,388.0 665.5,386.7 666.0,388.0 C666.5,389.3 665.0,394.7 664.0,398.0 C663.0,401.3 661.7,405.8 660.0,408.0 C658.3,410.2 654.5,412.3 654.0,411.0Z" fill="#c8190a"/>
<path d="M790.0,206.0 C786.7,196.2 774.3,205.5 770.0,207.0 C765.7,208.5 764.7,210.3 764.0,215.0 C763.3,219.7 766.2,227.2 766.0,235.0 C765.8,242.8 761.3,256.8 763.0,262.0 C764.7,267.2 771.5,265.3 776.0,266.0 C780.5,266.7 787.7,276.0 790.0,266.0 C792.3,256.0 793.3,215.8 790.0,206.0Z" fill="#dc3714"/>
<path d="M790.0,215.0 C787.0,212.2 775.8,214.5 772.0,216.0 C768.2,217.5 767.2,221.3 767.0,224.0 C766.8,226.7 767.2,230.5 771.0,232.0 C774.8,233.5 786.8,235.8 790.0,233.0 C793.2,230.2 793.0,217.8 790.0,215.0Z" fill="#f0641e"/>
<path d="M741.6,348.0 C742.4,345.2 746.9,338.8 751.0,334.0 C755.1,329.2 761.8,323.2 766.0,319.0 C770.2,314.8 772.0,311.3 776.0,309.0 C780.0,306.7 787.7,297.8 790.0,305.0 C792.3,312.2 794.8,344.0 790.0,352.0 C785.2,360.0 768.2,353.2 761.0,353.0 C753.8,352.8 749.7,351.8 746.5,351.0 C743.3,350.2 740.9,350.8 741.6,348.0Z" fill="#dc3714"/>
<path d="M683.0,336.0 C684.7,334.0 690.5,331.0 693.0,331.0 C695.5,331.0 698.3,333.5 698.0,336.0 C697.7,338.5 693.5,344.8 691.0,346.0 C688.5,347.2 684.3,344.7 683.0,343.0 C681.7,341.3 681.3,338.0 683.0,336.0Z" fill="#dc3714"/>
<path d="M736.0,290.0 C734.8,288.3 741.0,284.5 745.0,283.0 C749.0,281.5 756.8,280.2 760.0,281.0 C763.2,281.8 765.3,286.0 764.0,288.0 C762.7,290.0 756.7,292.7 752.0,293.0 C747.3,293.3 737.2,291.7 736.0,290.0Z" fill="#dc3714"/>
<path d="M588.8,467.6 C590.6,463.3 594.7,460.1 599.0,458.5 C603.4,456.9 609.7,456.6 614.9,458.0 C620.1,459.4 625.4,462.3 630.3,466.7 C635.1,471.2 641.2,479.3 644.0,484.6 C646.7,489.8 647.8,494.8 646.8,498.3 C645.8,501.8 641.5,503.6 638.1,505.5 C634.8,507.4 630.7,508.5 626.8,509.6 C622.9,510.7 618.9,512.2 614.9,512.0 C610.9,511.8 606.5,510.4 602.9,508.4 C599.4,506.4 596.0,503.9 593.5,499.9 C591.0,496.0 588.8,490.0 588.0,484.6 C587.2,479.2 587.0,472.0 588.8,467.6Z" fill="#c40064"/>
<path d="M563.8,554.4 C563.8,550.9 564.8,545.4 567.3,539.5 C569.8,533.5 573.4,524.8 578.8,518.8 C584.2,512.8 593.6,506.8 599.6,503.7 C605.6,500.6 610.7,500.2 615.0,500.2 C619.2,500.3 623.8,501.0 625.1,504.0 C626.4,507.0 624.4,512.9 622.9,518.1 C621.5,523.4 620.9,529.1 616.4,535.4 C611.9,541.6 601.9,551.1 595.7,555.5 C589.5,559.9 583.7,561.0 579.0,561.9 C574.3,562.7 569.9,561.6 567.4,560.4 C564.8,559.1 563.8,557.9 563.8,554.4Z" fill="#c40064"/>
<path d="M592.0,470.0 C593.5,466.2 597.2,463.3 601.0,462.0 C604.8,460.7 610.5,460.7 615.0,462.0 C619.5,463.3 623.8,466.2 628.0,470.0 C632.2,473.8 637.5,480.5 640.0,485.0 C642.5,489.5 643.8,494.0 643.0,497.0 C642.2,500.0 638.0,501.5 635.0,503.0 C632.0,504.5 628.3,505.2 625.0,506.0 C621.7,506.8 618.3,508.2 615.0,508.0 C611.7,507.8 608.0,506.7 605.0,505.0 C602.0,503.3 599.2,501.3 597.0,498.0 C594.8,494.7 592.8,489.7 592.0,485.0 C591.2,480.3 590.5,473.8 592.0,470.0Z" fill="#ae0050"/>
<path d="M566.2,552.6 C566.3,549.3 567.7,543.9 570.2,538.6 C572.7,533.3 576.3,526.1 581.1,520.8 C585.9,515.4 593.6,509.6 599.0,506.6 C604.4,503.6 609.3,502.8 613.3,502.7 C617.3,502.6 621.7,503.2 622.9,506.0 C624.0,508.8 621.8,514.6 620.2,519.4 C618.6,524.3 617.6,529.4 613.4,534.9 C609.3,540.4 601.0,548.4 595.5,552.5 C589.9,556.5 584.7,558.2 580.3,559.2 C576.0,560.1 571.8,559.3 569.4,558.2 C567.1,557.1 566.1,555.8 566.2,552.6Z" fill="#ae0050"/>
<path d="M601.0,466.0 C602.7,465.0 607.5,465.2 611.0,466.0 C614.5,466.8 618.7,468.5 622.0,471.0 C625.3,473.5 628.5,477.5 631.0,481.0 C633.5,484.5 636.8,489.5 637.0,492.0 C637.2,494.5 634.2,496.7 632.0,496.0 C629.8,495.3 626.7,490.7 624.0,488.0 C621.3,485.3 618.8,482.2 616.0,480.0 C613.2,477.8 609.5,476.3 607.0,475.0 C604.5,473.7 602.0,473.5 601.0,472.0 C600.0,470.5 599.3,467.0 601.0,466.0Z" fill="#a0002d"/>
<path d="M568.6,550.8 C568.9,547.8 570.7,542.5 573.1,537.8 C575.6,533.1 579.1,527.4 583.3,522.7 C587.6,518.0 593.7,512.5 598.4,509.6 C603.1,506.6 608.0,505.5 611.7,505.2 C615.4,504.9 619.7,505.4 620.6,508.0 C621.6,510.6 619.2,516.3 617.5,520.7 C615.8,525.1 614.2,529.7 610.5,534.5 C606.8,539.3 600.0,545.8 595.2,549.5 C590.4,553.2 585.6,555.4 581.7,556.5 C577.7,557.6 573.6,556.9 571.5,556.0 C569.3,555.0 568.3,553.8 568.6,550.8Z" fill="#a0002d"/>
<path d="M571.0,549.0 C571.4,546.2 573.6,541.0 576.0,537.0 C578.4,533.0 582.0,528.8 585.6,524.7 C589.2,520.6 593.7,515.3 597.8,512.5 C601.9,509.7 606.6,508.1 610.0,507.7 C613.4,507.3 617.6,507.6 618.4,510.0 C619.2,512.4 616.6,518.0 614.8,522.0 C613.0,526.0 610.8,529.9 607.5,534.0 C604.2,538.1 599.1,543.2 595.0,546.5 C590.9,549.8 586.6,552.6 583.0,553.8 C579.4,555.0 575.5,554.6 573.5,553.8 C571.5,553.0 570.6,551.8 571.0,549.0Z" fill="#b90000"/>
<path d="M580.0,546.0 C580.3,544.7 583.0,542.0 585.0,541.0 C587.0,540.0 591.5,539.2 592.0,540.0 C592.5,540.8 589.5,544.5 588.0,546.0 C586.5,547.5 584.3,549.0 583.0,549.0 C581.7,549.0 579.7,547.3 580.0,546.0Z" fill="#c8190a"/>
<path d="M731.0,485.0 C733.5,482.3 734.0,482.8 737.0,481.0 C740.0,479.2 744.8,474.8 749.0,474.0 C753.2,473.2 757.5,474.8 762.0,476.0 C766.5,477.2 771.3,479.8 776.0,481.0 C780.7,482.2 787.7,467.3 790.0,483.0 C792.3,498.7 793.3,560.2 790.0,575.0 C786.7,589.8 776.3,573.7 770.0,572.0 C763.7,570.3 756.2,568.7 752.0,565.0 C747.8,561.3 747.3,554.2 745.0,550.0 C742.7,545.8 741.8,543.7 738.0,540.0 C734.2,536.3 725.3,532.7 722.0,528.0 C718.7,523.3 718.0,517.2 718.0,512.0 C718.0,506.8 719.8,501.5 722.0,497.0 C724.2,492.5 728.5,487.7 731.0,485.0Z" fill="#ae0050"/>
<path d="M716.0,497.0 C716.7,494.3 719.2,491.5 722.0,490.0 C724.8,488.5 729.2,487.7 733.0,488.0 C736.8,488.3 741.8,490.0 745.0,492.0 C748.2,494.0 748.7,499.0 752.0,500.0 C755.3,501.0 760.7,498.8 765.0,498.0 C769.3,497.2 773.8,495.7 778.0,495.0 C782.2,494.3 788.0,486.5 790.0,494.0 C792.0,501.5 792.5,532.0 790.0,540.0 C787.5,548.0 779.7,542.3 775.0,542.0 C770.3,541.7 765.8,540.0 762.0,538.0 C758.2,536.0 755.3,533.0 752.0,530.0 C748.7,527.0 746.0,523.0 742.0,520.0 C738.0,517.0 732.0,514.3 728.0,512.0 C724.0,509.7 720.0,508.5 718.0,506.0 C716.0,503.5 715.3,499.7 716.0,497.0Z" fill="#a0002d"/>
<path d="M717.0,503.0 C716.7,501.3 719.7,499.0 722.0,498.0 C724.3,497.0 728.5,496.5 731.0,497.0 C733.5,497.5 736.7,499.3 737.0,501.0 C737.3,502.7 735.2,505.8 733.0,507.0 C730.8,508.2 726.7,508.7 724.0,508.0 C721.3,507.3 717.3,504.7 717.0,503.0Z" fill="#b90000"/>
<path d="M757.0,528.0 C756.0,524.8 761.8,518.3 764.0,515.0 C766.2,511.7 767.3,510.3 770.0,508.0 C772.7,505.7 776.7,502.3 780.0,501.0 C783.3,499.7 788.3,494.8 790.0,500.0 C791.7,505.2 793.3,526.3 790.0,532.0 C786.7,537.7 775.5,534.7 770.0,534.0 C764.5,533.3 758.0,531.2 757.0,528.0Z" fill="#b90000"/>
<path d="M770.0,528.0 C767.7,525.8 772.7,518.3 776.0,515.0 C779.3,511.7 787.7,505.8 790.0,508.0 C792.3,510.2 793.3,524.7 790.0,528.0 C786.7,531.3 772.3,530.2 770.0,528.0Z" fill="#c8190a"/>
<path d="M10.0,410.0 C11.7,410.0 13.3,409.7 20.0,410.0 C26.7,410.3 41.4,411.7 50.0,411.7 C58.6,411.7 63.4,411.7 71.7,410.0 C80.0,408.3 89.8,404.5 100.0,401.7 C110.2,398.9 121.8,396.1 133.0,393.0 C144.2,389.9 155.8,386.8 167.0,383.0 C178.2,379.2 189.0,374.2 200.0,370.0 C211.0,365.8 223.0,362.5 233.0,358.0 C243.0,353.5 252.8,347.0 260.0,343.0 C267.2,339.0 267.8,340.7 276.0,334.0 C284.2,327.3 297.8,313.2 309.0,303.0 C320.2,292.8 333.0,280.3 343.0,273.0 C353.0,265.7 359.0,263.0 369.0,259.0 C379.0,255.0 392.3,254.0 403.0,249.0 C413.7,244.0 425.3,235.0 433.0,229.0 C440.7,223.0 444.5,218.7 449.0,213.0 C453.5,207.3 457.7,200.5 460.0,195.0 C462.3,189.5 461.7,185.0 463.0,180.0 C464.3,175.0 465.2,168.8 468.0,165.0 C470.8,161.2 475.6,160.0 480.0,157.0 C484.4,154.0 489.4,152.3 494.6,147.0 C499.9,141.7 505.9,131.8 511.5,125.0 C517.1,118.2 523.2,111.2 528.5,106.0 C533.8,100.8 537.8,97.0 543.0,93.7 C548.2,90.4 554.3,88.9 560.0,86.4 C565.7,84.0 571.3,82.2 577.0,79.0 C582.7,75.8 590.0,70.7 594.0,67.0 C598.0,63.3 599.3,60.5 601.0,57.0 C602.7,53.5 603.5,47.8 604.0,46.0" fill="none" stroke="#3a2a10" stroke-width="0.8" stroke-opacity="1" stroke-linejoin="round"/>
<path d="M790.0,137.0 C788.2,137.0 783.2,137.7 779.0,137.0 C774.8,136.3 770.0,135.0 765.0,133.0 C760.0,131.0 755.7,126.8 749.0,125.0 C742.3,123.2 733.2,122.0 725.0,122.0 C716.8,122.0 705.0,122.0 700.0,125.0 C695.0,128.0 699.7,136.3 695.0,140.0 C690.3,143.7 679.7,144.8 672.0,147.0 C664.3,149.2 656.2,148.7 649.0,153.0 C641.8,157.3 636.3,166.3 629.0,173.0 C621.7,179.7 610.8,186.0 605.0,193.0 C599.2,200.0 596.2,208.5 594.0,215.0 C591.8,221.5 591.8,226.5 592.0,232.0 C592.2,237.5 595.3,243.7 595.0,248.0 C594.7,252.3 593.2,255.8 590.0,258.0 C586.8,260.2 580.8,260.2 576.0,261.0 C571.2,261.8 565.0,261.5 561.0,263.0 C557.0,264.5 555.2,266.8 552.0,270.0 C548.8,273.2 544.7,277.5 542.0,282.0 C539.3,286.5 538.0,291.7 536.0,297.0 C534.0,302.3 532.3,308.3 530.0,314.0 C527.7,319.7 524.8,325.0 522.0,331.0 C519.2,337.0 514.8,343.5 513.0,350.0 C511.2,356.5 512.3,364.2 511.0,370.0 C509.7,375.8 507.0,381.7 505.0,385.0 C503.0,388.3 501.0,388.0 499.0,390.0 C497.0,392.0 495.7,392.5 493.0,397.0 C490.3,401.5 485.8,409.8 483.0,417.0 C480.2,424.2 478.8,432.3 476.0,440.0 C473.2,447.7 469.0,455.8 466.0,463.0 C463.0,470.2 460.2,474.0 458.0,483.0 C455.8,492.0 455.5,505.8 453.0,517.0 C450.5,528.2 446.3,540.3 443.0,550.0 C439.7,559.7 435.2,568.3 433.0,575.0 C430.8,581.7 430.5,587.5 430.0,590.0" fill="none" stroke="#3a2a10" stroke-width="0.8" stroke-opacity="1" stroke-linejoin="round"/>
<path d="M776.0,186.4 C773.8,186.4 767.5,186.2 762.8,186.4 C758.1,186.6 752.0,186.8 748.0,187.6 C744.0,188.4 740.9,189.2 738.5,191.0 C736.1,192.8 733.7,195.7 733.7,198.5 C733.7,201.3 735.7,205.2 738.5,208.0 C741.3,210.8 747.1,212.7 750.7,215.5 C754.4,218.3 758.4,220.9 760.4,225.0 C762.4,229.1 763.2,235.0 762.8,239.8 C762.4,244.6 759.6,250.0 758.0,254.0 C756.4,258.0 754.3,261.3 753.0,264.0 C751.7,266.7 753.8,268.7 750.0,270.0 C746.2,271.3 736.3,272.0 730.0,272.0 C723.7,272.0 717.0,270.2 712.0,270.0 C707.0,269.8 703.3,270.0 700.0,271.0 C696.7,272.0 693.2,272.8 692.0,276.0 C690.8,279.2 691.6,286.5 693.0,290.0 C694.4,293.5 697.1,295.0 700.4,297.0 C703.6,299.0 708.5,301.2 712.5,302.0 C716.5,302.8 724.3,300.3 724.7,302.0 C725.1,303.7 717.5,308.8 715.0,312.0 C712.5,315.2 712.4,318.7 710.0,321.5 C707.6,324.3 704.1,327.2 700.4,329.0 C696.7,330.8 692.5,330.9 688.0,332.5 C683.5,334.1 678.1,337.1 673.7,338.5 C669.3,339.9 664.0,339.8 661.5,341.0 C659.0,342.2 657.8,344.4 659.0,346.0 C660.2,347.6 666.0,349.5 668.8,350.7 C671.6,351.9 674.4,350.9 676.0,353.0 C677.6,355.1 678.9,360.6 678.5,363.0 C678.1,365.4 675.7,365.7 673.7,367.7 C671.7,369.7 668.4,372.2 666.4,375.0 C664.4,377.8 659.5,382.7 661.5,384.7 C663.5,386.7 673.6,387.4 678.5,387.0 C683.4,386.6 686.7,384.0 690.7,382.0 C694.8,380.0 698.8,377.0 702.8,375.0 C706.8,373.0 710.1,371.0 715.0,370.0 C719.9,369.0 725.9,369.4 732.0,369.0 C738.1,368.6 745.7,368.4 751.4,367.7 C757.1,367.0 762.0,365.8 766.0,365.0 C770.0,364.2 774.0,363.3 775.6,363.0" fill="none" stroke="#3a2a10" stroke-width="0.8" stroke-opacity="1" stroke-linejoin="round"/>
<path d="M20.0,313.0 C23.8,313.7 36.8,317.5 43.0,317.0 C49.2,316.5 55.0,312.5 57.0,310.0 C59.0,307.5 56.5,304.0 55.0,302.0 C53.5,300.0 48.0,299.2 48.0,298.0 C48.0,296.8 49.2,295.2 55.0,295.0 C60.8,294.8 73.8,296.3 83.0,297.0 C92.2,297.7 103.0,298.5 110.0,299.0 C117.0,299.5 121.7,300.7 125.0,300.0 C128.3,299.3 130.0,297.2 130.0,295.0 C130.0,292.8 125.3,289.2 125.0,287.0 C124.7,284.8 123.8,283.7 128.0,282.0 C132.2,280.3 143.5,280.2 150.0,277.0 C156.5,273.8 161.5,267.5 167.0,263.0 C172.5,258.5 176.3,255.0 183.0,250.0 C189.7,245.0 199.2,237.7 207.0,233.0 C214.8,228.3 224.5,227.0 230.0,222.0 C235.5,217.0 235.5,207.8 240.0,203.0 C244.5,198.2 251.0,195.7 257.0,193.0 C263.0,190.3 267.3,192.0 276.0,187.0 C284.7,182.0 297.8,170.8 309.0,163.0 C320.2,155.2 331.8,148.8 343.0,140.0 C354.2,131.2 366.7,119.5 376.0,110.0 C385.3,100.5 390.7,92.2 399.0,83.0 C407.3,73.8 421.5,59.7 426.0,55.0" fill="none" stroke="#3a2a10" stroke-width="0.8" stroke-opacity="1" stroke-linejoin="round"/>
<path d="M462.0,79.0 C465.0,78.2 470.9,78.3 474.0,80.0 C477.1,81.7 479.8,85.9 480.6,89.0 C481.4,92.1 480.0,96.3 478.6,98.5 C477.2,100.7 474.4,101.8 472.0,102.4 C469.6,103.1 466.7,102.9 464.0,102.4 C461.3,101.9 457.7,101.1 456.0,99.5 C454.3,97.9 454.0,95.1 454.0,92.7 C454.0,90.3 454.7,87.3 456.0,85.0 C457.3,82.7 459.0,79.8 462.0,79.0Z" fill="none" stroke="#3a2a10" stroke-width="0.8" stroke-opacity="1" stroke-linejoin="round"/>
<path d="M489.0,56.0 C491.0,58.2 497.4,66.1 501.0,69.4 C504.6,72.7 508.1,74.7 510.7,76.0 C513.3,77.3 514.3,77.5 516.5,77.0 C518.7,76.5 521.1,75.2 524.0,73.0 C526.9,70.8 531.3,66.4 534.0,63.6 C536.7,60.8 539.0,57.3 540.0,56.0" fill="none" stroke="#3a2a10" stroke-width="0.8" stroke-opacity="1" stroke-linejoin="round"/>
<path d="M20.0,506.5 C25.0,506.9 40.8,510.2 50.0,509.0 C59.2,507.8 61.7,501.5 75.0,499.0 C88.3,496.5 116.7,496.5 130.0,494.0 C143.3,491.5 145.4,485.7 155.0,484.0 C164.6,482.3 181.2,480.7 187.5,484.0 C193.8,487.3 187.9,500.0 192.5,504.0 C197.1,508.0 205.0,507.6 215.0,508.0 C225.0,508.4 246.9,507.6 252.5,506.5 C258.1,505.4 248.9,505.2 248.5,501.5 C248.1,497.8 242.2,490.2 250.0,484.0 C257.8,477.8 285.4,471.1 295.0,464.0 C304.6,456.9 305.8,447.3 307.5,441.5 C309.2,435.7 307.9,431.8 305.0,429.0 C302.1,426.2 299.2,424.2 290.0,425.0 C280.8,425.8 258.8,432.9 250.0,434.0 C241.2,435.1 239.2,432.8 237.5,431.5 C235.8,430.2 234.6,429.0 240.0,426.5 C245.4,424.0 260.8,420.7 270.0,416.5 C279.2,412.3 290.0,406.1 295.0,401.5 C300.0,396.9 295.8,391.9 300.0,389.0 C304.2,386.1 311.7,385.2 320.0,384.0 C328.3,382.8 342.1,380.2 350.0,381.5 C357.9,382.8 364.2,387.8 367.5,391.5 C370.8,395.2 365.2,400.6 370.0,404.0 C374.8,407.4 389.5,416.2 396.0,412.0 C402.5,407.8 404.0,390.5 409.0,379.0 C414.0,367.5 418.2,355.2 426.0,343.0 C433.8,330.8 447.7,316.7 456.0,306.0 C464.3,295.3 468.2,289.0 476.0,279.0 C483.8,269.0 495.2,256.5 503.0,246.0 C510.8,235.5 518.0,223.7 523.0,216.0 C528.0,208.3 528.5,208.2 533.0,200.0 C537.5,191.8 545.1,176.2 550.0,166.5 C554.9,156.8 558.0,148.9 562.5,142.0 C567.0,135.1 571.8,129.8 577.0,125.0 C582.2,120.2 588.3,116.2 594.0,113.0 C599.7,109.8 605.7,109.7 611.0,106.0 C616.3,102.3 620.8,96.3 625.6,91.0 C630.4,85.7 635.9,78.4 640.0,74.0 C644.1,69.6 646.7,67.3 650.0,64.5 C653.3,61.7 658.0,58.2 659.6,57.0" fill="none" stroke="#3a2a10" stroke-width="0.8" stroke-opacity="1" stroke-linejoin="round"/>
<path d="M605.0,256.0 C602.5,257.0 594.5,260.3 590.0,262.0 C585.5,263.7 580.8,264.3 578.0,266.0 C575.2,267.7 574.2,268.7 573.5,272.0 C572.8,275.3 574.4,281.2 573.5,286.0 C572.6,290.8 569.5,296.1 568.0,300.7 C566.5,305.3 564.5,308.8 564.5,313.4 C564.5,317.9 567.1,322.9 568.0,328.0 C568.9,333.1 570.3,337.7 570.0,344.0 C569.7,350.3 567.5,359.8 566.0,366.0 C564.5,372.2 561.0,376.1 561.0,381.0 C561.0,385.9 564.3,392.0 566.0,395.5 C567.7,399.0 569.8,399.6 571.0,402.0 C572.2,404.4 574.3,406.3 573.5,410.0 C572.7,413.7 568.1,420.7 566.0,424.0 C563.9,427.3 563.7,428.3 561.0,430.0 C558.3,431.7 554.2,431.8 550.0,434.0 C545.8,436.2 539.3,438.8 535.8,443.0 C532.3,447.2 531.3,454.5 529.0,459.0 C526.7,463.5 524.2,465.7 522.0,470.0 C519.8,474.3 517.4,480.5 516.0,485.0 C514.6,489.5 515.6,490.5 513.8,497.0 C512.0,503.5 507.6,516.0 505.0,524.0 C502.4,532.0 500.5,536.3 498.0,545.0 C495.5,553.7 491.3,570.8 490.0,576.0" fill="none" stroke="#3a2a10" stroke-width="0.8" stroke-opacity="1" stroke-linejoin="round"/>
<path d="M640.0,236.0 C641.7,237.5 647.5,240.7 650.0,245.0 C652.5,249.3 655.3,256.2 655.0,262.0 C654.7,267.8 650.5,273.7 648.0,280.0 C645.5,286.3 639.7,293.7 640.0,300.0 C640.3,306.3 646.3,313.7 650.0,318.0 C653.7,322.3 659.0,326.0 662.0,326.0 C665.0,326.0 663.3,319.0 668.0,318.0 C672.7,317.0 689.3,317.2 690.0,320.0 C690.7,322.8 677.8,332.0 672.0,335.0 C666.2,338.0 658.7,335.2 655.0,338.0 C651.3,340.8 650.5,346.3 650.0,352.0 C649.5,357.7 650.3,366.0 652.0,372.0 C653.7,378.0 659.5,382.0 660.0,388.0 C660.5,394.0 657.5,402.7 655.0,408.0 C652.5,413.3 648.8,416.7 645.0,420.0 C641.2,423.3 634.2,426.7 632.0,428.0" fill="none" stroke="#3a2a10" stroke-width="0.8" stroke-opacity="1" stroke-linejoin="round"/>
<path d="M584.0,338.0 C585.0,335.5 592.3,332.7 596.0,332.0 C599.7,331.3 604.8,332.3 606.0,334.0 C607.2,335.7 605.7,339.8 603.0,342.0 C600.3,344.2 593.2,347.7 590.0,347.0 C586.8,346.3 583.0,340.5 584.0,338.0Z" fill="none" stroke="#3a2a10" stroke-width="0.8" stroke-opacity="1" stroke-linejoin="round"/>
<path d="M587.0,380.0 C588.7,376.7 595.3,373.7 600.0,372.0 C604.7,370.3 611.3,369.0 615.0,370.0 C618.7,371.0 621.5,375.0 622.0,378.0 C622.5,381.0 621.7,386.0 618.0,388.0 C614.3,390.0 604.7,389.3 600.0,390.0 C595.3,390.7 592.2,393.7 590.0,392.0 C587.8,390.3 585.3,383.3 587.0,380.0Z" fill="none" stroke="#3a2a10" stroke-width="0.8" stroke-opacity="1" stroke-linejoin="round"/>
<path d="M536.0,590.0 C536.7,586.7 538.0,575.8 540.0,570.0 C542.0,564.2 544.7,560.0 548.0,555.0 C551.3,550.0 557.0,545.8 560.0,540.0 C563.0,534.2 563.5,526.7 566.0,520.0 C568.5,513.3 571.0,506.7 575.0,500.0 C579.0,493.3 585.8,485.0 590.0,480.0 C594.2,475.0 598.3,471.7 600.0,470.0" fill="none" stroke="#3a2a10" stroke-width="0.8" stroke-opacity="1" stroke-linejoin="round"/>
<path d="M577.0,79.0 L582.0,75.5 L589.0,74.0 L594.0,69.0 L601.0,64.5 L601.0,58.5" fill="none" stroke="#140800" stroke-width="0.9" stroke-opacity="1" stroke-linejoin="round"/>
<path d="M594.0,73.0 L604.0,72.0 L612.0,73.0 L618.0,75.5 L621.0,72.0 L625.6,67.0 L635.0,64.5 L650.0,63.0 L659.6,62.0 L671.7,59.7 L680.0,61.0 L672.0,58.0 L685.0,55.0" fill="none" stroke="#140800" stroke-width="0.9" stroke-opacity="1" stroke-linejoin="round"/>
<path d="M596.5,114.0 L604.0,113.6 L616.0,112.0 L625.6,110.7 L633.0,110.7 L637.8,115.5 L641.4,119.0 L650.0,115.5 L659.6,112.0 L664.5,115.5 L669.0,116.7 L671.7,110.7 L674.0,98.5 L671.7,89.0 L664.5,86.4 L659.6,89.0" fill="none" stroke="#140800" stroke-width="0.9" stroke-opacity="1" stroke-linejoin="round"/>
<path d="M596.5,114.0 L597.7,120.4 L596.5,122.8 L603.8,125.0 L607.4,127.7 L601.4,130.0 L600.0,133.7 L607.4,136.0 L606.0,139.8 L612.0,138.6 L618.0,141.0 L625.6,144.7 L635.0,143.4 L640.0,146.0 L637.8,149.5 L645.0,147.0 L650.0,142.0 L655.0,153.0 L662.0,150.0 L660.0,160.0 L669.0,173.0 L667.0,183.0 L675.0,190.0 L679.0,197.0 L685.0,207.0 L689.0,213.0 L680.0,203.0 L677.0,210.0 L675.0,223.0 L672.0,250.0" fill="none" stroke="#140800" stroke-width="0.9" stroke-opacity="1" stroke-linejoin="round"/>
<path d="M670.0,88.0 L685.0,97.0 L702.0,95.0 L712.0,92.0 L709.0,87.0 L725.0,85.0 L734.0,77.0 L735.0,67.0 L752.0,55.0" fill="none" stroke="#140800" stroke-width="0.9" stroke-opacity="1" stroke-linejoin="round"/>
<path d="M500.7,264.0 L502.0,258.0 L508.0,256.0 L520.0,248.5 L530.0,243.7 L537.0,245.0 L547.0,248.5 L561.0,247.0 L576.0,249.7 L595.0,249.7 L614.7,251.0 L629.0,251.0 L640.0,252.0 L655.0,252.0 L672.0,250.0" fill="none" stroke="#140800" stroke-width="0.9" stroke-opacity="1" stroke-linejoin="round"/>
<path d="M500.7,264.0 L504.0,270.0 L509.0,271.6 L506.7,275.0 L513.0,277.7 L510.0,282.5 L514.0,285.0 L509.0,292.0 L510.0,302.0 L513.0,316.5 L513.0,326.0 L509.0,338.0 L507.4,342.0 L501.0,354.7 L496.8,363.0 L495.8,373.7 L503.0,378.0 L502.0,382.0 L511.6,384.0 L509.5,392.6 L509.5,405.0 L507.4,419.0 L522.0,421.0 L541.0,415.8 L553.7,421.0 L561.0,430.0 L568.0,437.0 L576.0,445.0 L581.5,447.0" fill="none" stroke="#140800" stroke-width="0.9" stroke-opacity="1" stroke-linejoin="round"/>
<path d="M509.0,292.0 L523.7,293.4 L537.0,291.0 L547.0,290.0 L559.0,291.0 L560.0,297.0 L566.0,302.0 L564.0,309.0 L554.0,314.0 L551.6,326.0 L554.0,336.0 L549.0,343.0 L551.6,350.0 L538.0,351.6 L548.4,369.5 L545.0,380.0 L549.5,390.5 L540.0,401.0 L541.0,415.8" fill="none" stroke="#140800" stroke-width="0.9" stroke-opacity="1" stroke-linejoin="round"/>
<path d="M581.5,447.0 L590.0,441.0 L600.0,436.0 L615.0,433.0 L630.0,428.0 L644.6,426.0 L651.8,404.0 L659.0,387.0 L678.5,387.0 L690.7,370.0 L695.5,350.7 L702.8,333.7 L715.0,312.0 L724.7,302.0" fill="none" stroke="#140800" stroke-width="0.9" stroke-opacity="1" stroke-linejoin="round"/>
<path d="M724.7,302.0 L715.8,326.7 L718.0,322.0 L724.5,322.0 L731.0,313.6 L739.8,307.0 L753.0,298.0 L761.6,291.7 L770.4,278.6 L768.0,276.5 L766.0,265.5 L770.4,256.8 L780.0,254.6" fill="none" stroke="#140800" stroke-width="0.9" stroke-opacity="1" stroke-linejoin="round"/>
<path d="M640.0,252.0 L665.5,256.8 L687.4,265.5 L713.6,270.0 L739.8,274.0 L770.4,278.6" fill="none" stroke="#140800" stroke-width="0.9" stroke-opacity="1" stroke-linejoin="round"/>
<path d="M581.5,447.0 L572.0,453.8 L568.0,467.0 L563.7,479.0 L554.0,496.0 L544.0,506.0 L530.7,514.7 L517.0,521.5 L505.0,535.0 L495.0,555.0 L488.0,576.0" fill="none" stroke="#140800" stroke-width="0.9" stroke-opacity="1" stroke-linejoin="round"/>
<path d="M582.0,447.0 L592.0,451.7 L608.7,458.0 L618.7,463.0 L635.0,461.7 L648.7,476.7 L662.0,480.0 L665.0,473.0 L678.7,456.7 L692.0,451.7 L708.7,441.7 L722.0,436.7 L738.7,430.0 L758.7,426.7 L778.7,421.7" fill="none" stroke="#140800" stroke-width="0.9" stroke-opacity="1" stroke-linejoin="round"/>
<path d="M665.0,480.0 L663.7,496.7 L668.7,513.0 L667.0,526.7 L675.0,543.0 L662.0,546.7 L635.0,553.0 L618.7,566.7 L612.0,576.7" fill="none" stroke="#140800" stroke-width="0.9" stroke-opacity="1" stroke-linejoin="round"/>
<path d="M23.0,355.0 L25.0,358.0 L24.0,361.0 L22.0,358.0 L23.0,355.0" fill="none" stroke="#140800" stroke-width="0.9" stroke-opacity="1" stroke-linejoin="round"/>
<path d="M77.0,378.0 L80.0,376.0 L83.0,380.0 L80.0,383.0 L77.0,378.0" fill="none" stroke="#140800" stroke-width="0.9" stroke-opacity="1" stroke-linejoin="round"/>
<path d="M87.0,376.0 L98.0,382.0 L96.0,384.0 L88.0,380.0 L87.0,376.0" fill="none" stroke="#140800" stroke-width="0.9" stroke-opacity="1" stroke-linejoin="round"/>
<path d="M108.0,373.0 L113.0,375.0 L112.0,379.0 L108.0,377.0 L108.0,373.0" fill="none" stroke="#140800" stroke-width="0.9" stroke-opacity="1" stroke-linejoin="round"/>
<path d="M142.0,396.0 L147.0,400.0 L150.0,401.0 L147.0,397.0 L142.0,396.0" fill="none" stroke="#140800" stroke-width="0.9" stroke-opacity="1" stroke-linejoin="round"/>
<path d="M156.0,419.0 L158.0,422.0 L160.0,420.0 L156.0,419.0" fill="none" stroke="#140800" stroke-width="0.9" stroke-opacity="1" stroke-linejoin="round"/>
<path d="M227.0,55.0 C230.3,58.0 238.8,66.7 247.0,73.0 C255.2,79.3 264.0,88.5 276.0,93.0 C288.0,97.5 305.2,98.8 319.0,100.0 C332.8,101.2 346.7,99.5 359.0,100.0 C371.3,100.5 381.8,100.2 393.0,103.0 C404.2,105.8 417.7,112.0 426.0,117.0 C434.3,122.0 438.0,127.5 443.0,133.0 C448.0,138.5 450.5,145.5 456.0,150.0 C461.5,154.5 468.8,157.8 476.0,160.0 C483.2,162.2 491.2,163.5 499.0,163.0 C506.8,162.5 515.7,161.3 523.0,157.0 C530.3,152.7 538.2,142.7 543.0,137.0 C547.8,131.3 547.7,129.7 552.0,123.0 C556.3,116.3 565.3,105.3 569.0,97.0 C572.7,88.7 574.0,80.0 574.0,73.0 C574.0,66.0 569.8,58.0 569.0,55.0" fill="none" stroke="#f4ece0" stroke-width="1.15" stroke-opacity="0.88" stroke-linejoin="round"/>
<path d="M137.0,55.0 C140.8,60.3 151.7,77.8 160.0,87.0 C168.3,96.2 178.2,102.8 187.0,110.0 C195.8,117.2 203.0,123.8 213.0,130.0 C223.0,136.2 236.5,142.5 247.0,147.0 C257.5,151.5 265.7,153.7 276.0,157.0 C286.3,160.3 297.8,162.7 309.0,167.0 C320.2,171.3 331.8,177.0 343.0,183.0 C354.2,189.0 365.0,197.3 376.0,203.0 C387.0,208.7 398.5,214.2 409.0,217.0 C419.5,219.8 430.0,220.0 439.0,220.0 C448.0,220.0 454.0,219.8 463.0,217.0 C472.0,214.2 483.0,209.2 493.0,203.0 C503.0,196.8 513.2,188.8 523.0,180.0 C532.8,171.2 543.8,160.5 552.0,150.0 C560.2,139.5 564.8,127.5 572.0,117.0 C579.2,106.5 587.2,96.0 595.0,87.0 C602.8,78.0 614.0,68.3 619.0,63.0 C624.0,57.7 624.0,56.3 625.0,55.0" fill="none" stroke="#f4ece0" stroke-width="1.15" stroke-opacity="0.88" stroke-linejoin="round"/>
<path d="M65.0,55.0 C70.3,61.3 86.7,78.8 97.0,93.0 C107.3,107.2 121.0,128.8 127.0,140.0 C133.0,151.2 129.7,153.3 133.0,160.0 C136.3,166.7 143.0,175.5 147.0,180.0 C151.0,184.5 151.5,184.8 157.0,187.0 C162.5,189.2 172.8,190.3 180.0,193.0 C187.2,195.7 193.3,198.5 200.0,203.0 C206.7,207.5 213.3,216.0 220.0,220.0 C226.7,224.0 235.0,221.0 240.0,227.0 C245.0,233.0 246.2,246.0 250.0,256.0 C253.8,266.0 258.7,274.7 263.0,287.0 C267.3,299.3 272.7,320.3 276.0,330.0 C279.3,339.7 279.7,341.2 283.0,345.0 C286.3,348.8 293.3,348.3 296.0,353.0 C298.7,357.7 295.2,367.2 299.0,373.0 C302.8,378.8 308.3,385.3 319.0,388.0 C329.7,390.7 351.8,393.2 363.0,389.0 C374.2,384.8 378.3,372.3 386.0,363.0 C393.7,353.7 400.7,343.7 409.0,333.0 C417.3,322.3 427.0,309.0 436.0,299.0 C445.0,289.0 453.5,281.3 463.0,273.0 C472.5,264.7 483.0,256.8 493.0,249.0 C503.0,241.2 514.7,233.2 523.0,226.0 C531.3,218.8 535.8,215.0 543.0,206.0 C550.2,197.0 557.8,183.0 566.0,172.0 C574.2,161.0 583.3,150.7 592.0,140.0 C600.7,129.3 610.0,118.3 618.0,108.0 C626.0,97.7 634.3,86.8 640.0,78.0 C645.7,69.2 650.0,58.8 652.0,55.0" fill="none" stroke="#f4ece0" stroke-width="1.15" stroke-opacity="0.88" stroke-linejoin="round"/>
<path d="M20.0,172.0 C25.0,176.2 40.5,189.0 50.0,197.0 C59.5,205.0 67.0,211.7 77.0,220.0 C87.0,228.3 102.3,237.0 110.0,247.0 C117.7,257.0 119.2,271.2 123.0,280.0 C126.8,288.8 130.2,291.2 133.0,300.0 C135.8,308.8 140.5,323.5 140.0,333.0 C139.5,342.5 134.5,351.3 130.0,357.0 C125.5,362.7 116.3,363.7 113.0,367.0 C109.7,370.3 112.7,372.7 110.0,377.0 C107.3,381.3 102.0,387.5 97.0,393.0 C92.0,398.5 83.7,404.3 80.0,410.0 C76.3,415.7 73.3,421.5 75.0,427.0 C76.7,432.5 87.2,438.0 90.0,443.0 C92.8,448.0 95.8,450.8 92.0,457.0 C88.2,463.2 74.5,472.3 67.0,480.0 C59.5,487.7 51.0,496.3 47.0,503.0 C43.0,509.7 42.0,515.0 43.0,520.0 C44.0,525.0 47.3,528.0 53.0,533.0 C58.7,538.0 68.7,545.2 77.0,550.0 C85.3,554.8 93.7,560.3 103.0,562.0 C112.3,563.7 122.3,561.5 133.0,560.0 C143.7,558.5 155.8,556.3 167.0,553.0 C178.2,549.7 189.0,546.0 200.0,540.0 C211.0,534.0 224.2,523.2 233.0,517.0 C241.8,510.8 245.8,507.8 253.0,503.0 C260.2,498.2 266.7,494.0 276.0,488.0 C285.3,482.0 297.8,473.3 309.0,467.0 C320.2,460.7 330.2,455.0 343.0,450.0 C355.8,445.0 373.8,442.0 386.0,437.0 C398.2,432.0 408.2,425.7 416.0,420.0 C423.8,414.3 428.5,408.0 433.0,403.0 C437.5,398.0 439.2,394.0 443.0,390.0 C446.8,386.0 448.3,384.7 456.0,379.0 C463.7,373.3 477.8,362.0 489.0,356.0 C500.2,350.0 515.2,349.2 523.0,343.0 C530.8,336.8 535.0,325.2 536.0,319.0 C537.0,312.8 531.0,310.2 529.0,306.0 C527.0,301.8 522.8,298.5 524.0,294.0 C525.2,289.5 531.3,285.3 536.0,279.0 C540.7,272.7 545.5,263.8 552.0,256.0 C558.5,248.2 567.0,241.3 575.0,232.0 C583.0,222.7 591.7,211.2 600.0,200.0 C608.3,188.8 616.7,176.7 625.0,165.0 C633.3,153.3 642.2,141.7 650.0,130.0 C657.8,118.3 665.3,107.5 672.0,95.0 C678.7,82.5 687.0,61.7 690.0,55.0" fill="none" stroke="#f4ece0" stroke-width="1.15" stroke-opacity="0.88" stroke-linejoin="round"/>
<path d="M406.0,576.0 C407.7,571.7 411.6,556.3 416.0,550.0 C420.4,543.7 427.2,540.8 432.7,538.0 C438.2,535.2 444.9,534.3 449.0,533.0 C453.1,531.7 454.7,529.3 457.5,530.0 C460.3,530.7 463.5,533.8 466.0,537.0 C468.5,540.2 471.0,544.2 472.5,549.0 C474.0,553.8 474.4,561.5 475.0,566.0 C475.6,570.5 475.8,574.3 476.0,576.0" fill="none" stroke="#f4ece0" stroke-width="1.15" stroke-opacity="0.88" stroke-linejoin="round"/>
<path d="M545.0,576.0 C546.3,574.2 550.5,568.5 553.0,565.0 C555.5,561.5 558.0,559.0 560.0,555.0 C562.0,551.0 563.2,545.3 565.0,541.0 C566.8,536.7 570.7,533.5 571.0,529.0 C571.3,524.5 567.0,520.3 567.0,514.0 C567.0,507.7 567.7,496.0 571.0,491.0 C574.3,486.0 582.7,485.7 587.0,484.0 C591.3,482.3 593.5,482.0 597.0,481.0 C600.5,480.0 607.5,480.7 608.0,478.0 C608.5,475.3 603.0,469.7 600.0,465.0 C597.0,460.3 592.8,454.8 590.0,450.0 C587.2,445.2 583.8,441.0 583.0,436.0 C582.2,431.0 586.3,426.0 585.0,420.0 C583.7,414.0 575.8,405.8 575.0,400.0 C574.2,394.2 577.5,390.0 580.0,385.0 C582.5,380.0 586.7,375.0 590.0,370.0 C593.3,365.0 595.8,359.2 600.0,355.0 C604.2,350.8 614.2,349.2 615.0,345.0 C615.8,340.8 604.2,334.5 605.0,330.0 C605.8,325.5 615.8,323.0 620.0,318.0 C624.2,313.0 626.7,305.0 630.0,300.0 C633.3,295.0 636.7,290.8 640.0,288.0 C643.3,285.2 646.7,285.2 650.0,283.0 C653.3,280.8 657.0,279.7 660.0,275.0 C663.0,270.3 667.2,261.7 668.0,255.0 C668.8,248.3 664.3,241.7 665.0,235.0 C665.7,228.3 667.8,223.3 672.0,215.0 C676.2,206.7 683.7,195.8 690.0,185.0 C696.3,174.2 703.3,162.5 710.0,150.0 C716.7,137.5 723.7,122.5 730.0,110.0 C736.3,97.5 743.3,84.2 748.0,75.0 C752.7,65.8 756.3,58.3 758.0,55.0" fill="none" stroke="#f4ece0" stroke-width="1.15" stroke-opacity="0.88" stroke-linejoin="round"/>
<path d="M776.0,360.0 C774.3,358.8 770.1,355.0 766.0,353.0 C761.9,351.0 756.3,348.4 751.4,348.0 C746.5,347.6 741.7,348.7 736.8,350.7 C731.9,352.7 726.5,357.1 722.0,360.0 C717.5,362.9 713.4,366.3 710.0,368.0 C706.6,369.7 705.5,370.0 701.5,370.0 C697.5,370.0 689.8,370.0 686.0,368.0 C682.2,366.0 681.2,362.1 678.5,358.0 C675.8,353.9 670.8,346.6 670.0,343.4 C669.2,340.1 670.7,340.6 673.7,338.5 C676.7,336.4 683.5,333.0 688.0,331.0 C692.5,329.0 697.1,328.4 700.4,326.4 C703.7,324.4 706.9,321.9 707.7,319.0 C708.5,316.1 707.0,312.8 705.0,309.0 C703.0,305.2 698.6,299.6 696.0,296.0 C693.4,292.4 690.9,291.7 689.5,287.4 C688.1,283.1 684.8,273.3 687.4,270.0 C690.0,266.7 699.2,267.4 705.0,267.7 C710.8,268.0 715.8,270.8 722.0,272.0 C728.2,273.2 736.2,274.7 742.0,275.0 C747.8,275.3 753.9,275.6 757.0,274.0 C760.1,272.4 760.5,268.7 760.5,265.5 C760.5,262.3 756.6,258.2 757.0,254.6 C757.4,251.0 762.1,247.3 762.7,243.7 C763.3,240.1 760.0,236.5 760.5,232.8 C761.0,229.2 765.6,225.4 766.0,221.8 C766.4,218.2 763.6,214.6 762.7,211.0 C761.8,207.4 760.1,204.3 760.5,200.0 C760.9,195.7 764.8,190.8 765.0,185.0 C765.2,179.2 761.2,171.7 762.0,165.0 C762.8,158.3 767.7,150.8 770.0,145.0 C772.3,139.2 775.0,132.5 776.0,130.0" fill="none" stroke="#f4ece0" stroke-width="1.15" stroke-opacity="0.88" stroke-linejoin="round"/>
<path d="M577.8,550.0 C579.6,546.5 584.6,534.6 588.5,528.7 C592.4,522.8 596.9,517.6 601.0,514.5 C605.1,511.4 610.7,510.3 613.4,510.0 C616.1,509.7 618.5,509.9 617.0,512.7 C615.5,515.5 607.2,522.3 604.5,527.0 C601.8,531.7 603.4,537.2 601.0,541.0 C598.6,544.8 593.6,547.6 590.0,550.0 C586.4,552.4 581.6,555.4 579.6,555.4 C577.6,555.4 578.1,550.9 577.8,550.0" fill="none" stroke="#f4ece0" stroke-width="1.15" stroke-opacity="0.88" stroke-linejoin="round"/>
<path d="M730.0,525.0 C730.8,524.2 733.2,520.2 735.0,520.0 C736.8,519.8 740.5,522.0 741.0,524.0 C741.5,526.0 739.5,530.8 738.0,532.0 C736.5,533.2 733.0,531.2 732.0,531.0" fill="none" stroke="#f4ece0" stroke-width="1.15" stroke-opacity="0.88" stroke-linejoin="round"/>
<path d="M752.0,525.0 C753.7,522.5 758.0,514.5 762.0,510.0 C766.0,505.5 773.7,500.0 776.0,498.0" fill="none" stroke="#f4ece0" stroke-width="1.15" stroke-opacity="0.88" stroke-linejoin="round"/>
<path d="M18.6,54.0L23.6,61.0M45.7,54.0L50.9,61.2M72.8,54.0L79.5,63.6M99.9,54.0L107.5,65.4M127.0,54.0L134.6,64.2M154.1,54.0L161.9,61.5M181.2,54.0L189.6,59.8M208.3,54.0L217.4,58.5M235.4,54.0L245.5,56.9M262.5,54.0L273.4,55.9M289.6,54.0L300.3,54.9M316.7,54.0L327.2,53.3M343.8,54.0L354.7,52.3M370.9,54.0L381.1,52.0M398.0,54.0L407.3,51.7M425.1,54.0L434.0,51.5M452.2,54.0L459.2,51.0M479.3,54.0L483.9,51.1M506.4,54.0L510.0,49.5M533.5,54.0L536.8,44.0M560.6,54.0L565.8,37.4M587.7,54.0L597.8,34.4M614.8,54.0L624.2,32.5M641.9,54.0L648.9,29.4M669.0,54.0L672.8,27.4M696.1,54.0L696.6,27.1M723.2,54.0L723.5,25.0M750.3,54.0L751.1,25.1M777.4,54.0L778.4,26.1M18.6,86.8L23.7,93.8M45.7,86.8L51.0,94.2M72.8,86.8L80.4,98.6M99.9,86.8L107.9,99.7M127.0,86.8L134.9,98.5M154.1,86.8L162.4,95.2M181.2,86.8L190.5,94.5M208.3,86.8L218.1,93.9M235.4,86.8L246.7,90.2M262.5,86.8L275.3,88.8M289.6,86.8L301.9,88.5M316.7,86.8L328.0,86.0M343.8,86.8L355.8,84.8M370.9,86.8L382.2,84.9M398.0,86.8L407.8,84.8M425.1,86.8L435.0,84.8M452.2,86.8L459.7,85.0M479.3,86.8L482.3,87.2M533.5,86.8L533.0,82.9M560.6,86.8L561.1,65.4M587.7,86.8L604.1,64.9M614.8,86.8L625.7,65.6M641.9,86.8L649.8,59.9M669.0,86.8L674.0,56.0M696.1,86.8L697.4,60.1M723.2,86.8L723.7,59.0M750.3,86.8L751.1,57.9M777.4,86.8L778.2,59.3M18.6,119.5L24.3,126.7M45.7,119.5L52.2,128.0M72.8,119.5L80.5,130.1M99.9,119.5L107.9,130.9M127.0,119.5L135.0,129.6M154.1,119.5L162.7,127.6M181.2,119.5L191.1,128.3M208.3,119.5L218.3,128.4M235.4,119.5L245.9,124.5M262.5,119.5L274.8,121.7M289.6,119.5L301.4,121.8M316.7,119.5L327.7,120.8M343.8,119.5L354.6,118.6M370.9,119.5L380.7,118.6M398.0,119.5L406.9,119.5M425.1,119.5L433.8,119.5M452.2,119.5L459.7,118.9M479.3,119.5L486.3,120.4M506.4,119.5L509.1,124.0M533.5,119.5L546.1,102.3M560.6,119.5L570.1,104.2M587.7,119.5L599.5,101.7M614.8,119.5L624.4,100.2M641.9,119.5L647.8,96.7M669.0,119.5L671.1,90.9M696.1,119.5L697.3,96.6M723.2,119.5L723.4,96.9M750.3,119.5L749.0,96.9M777.4,119.5L776.4,97.5M18.6,152.2L24.4,159.0M45.7,152.2L52.6,160.5M72.8,152.2L81.3,162.6M99.9,152.2L108.9,163.2M127.0,152.2L135.4,162.1M154.1,152.2L162.2,159.6M181.2,152.2L190.2,159.4M208.3,152.2L217.5,159.1M235.4,152.2L244.4,157.1M262.5,152.2L272.6,155.4M289.6,152.2L301.5,155.2M316.7,152.2L328.1,155.0M343.8,152.2L352.8,153.4M370.9,152.2L379.2,152.8M398.0,152.2L406.2,155.1M425.1,152.2L433.1,156.0M452.2,152.2L461.3,151.1M479.3,152.2L490.1,147.9M506.4,152.2L520.8,142.5M533.5,152.2L552.1,130.2M560.6,152.2L576.4,135.6M587.7,152.2L605.5,134.3M614.8,152.2L625.7,136.6M641.9,152.2L652.6,137.2M669.0,152.2L673.8,134.9M696.1,152.2L696.6,137.5M723.2,152.2L724.5,135.4M750.3,152.2L751.1,136.8M777.4,152.2L777.4,134.7M18.6,185.0L23.6,190.8M45.7,185.0L51.5,191.9M72.8,185.0L80.2,193.9M99.9,185.0L108.1,194.9M127.0,185.0L134.3,193.2M154.1,185.0L161.7,191.3M181.2,185.0L191.3,190.9M208.3,185.0L218.7,190.9M235.4,185.0L243.3,190.0M262.5,185.0L269.6,189.0M289.6,185.0L297.6,188.5M316.7,185.0L324.3,188.1M343.8,185.0L350.6,187.2M370.9,185.0L378.4,185.9M398.0,185.0L406.7,187.0M425.1,185.0L434.1,187.7M452.2,185.0L462.9,182.7M479.3,185.0L492.6,184.3M506.4,185.0L524.8,173.8M533.5,185.0L550.7,172.5M560.6,185.0L581.3,167.2M587.7,185.0L600.5,170.2M614.8,185.0L622.8,172.3M641.9,185.0L652.4,173.6M669.0,185.0L674.1,167.4M696.1,185.0L699.1,171.8M723.2,185.0L727.6,172.8M750.3,185.0L749.6,171.9M777.4,185.0L777.6,171.3M18.6,217.8L22.7,223.1M45.7,217.8L49.9,223.4M72.8,217.8L77.4,223.7M99.9,217.8L104.8,224.2M127.0,217.8L131.8,224.3M154.1,217.8L160.0,223.9M181.2,217.8L189.9,223.6M208.3,217.8L217.1,223.6M235.4,217.8L241.1,223.1M262.5,217.8L266.9,223.0M289.6,217.8L293.6,223.4M316.7,217.8L320.6,223.8M343.8,217.8L347.9,223.9M370.9,217.8L377.0,219.8M398.0,217.8L406.1,217.0M425.1,217.8L434.1,215.7M452.2,217.8L462.9,212.7M479.3,217.8L492.8,210.0M506.4,217.8L523.2,206.0M533.5,217.8L547.0,207.1M560.6,217.8L572.0,205.7M587.7,217.8L592.6,206.7M614.8,217.8L615.9,207.6M641.9,217.8L643.0,204.8M669.0,217.8L669.1,202.9M696.1,217.8L697.1,207.6M723.2,217.8L722.3,209.6M750.3,217.8L749.8,207.1M777.4,217.8L776.9,206.1M18.6,250.5L22.3,255.6M45.7,250.5L49.7,256.5M72.8,250.5L76.8,255.9M99.9,250.5L104.4,256.6M127.0,250.5L131.0,257.5M154.1,250.5L158.5,257.1M181.2,250.5L186.2,256.9M208.3,250.5L213.3,256.5M235.4,250.5L239.6,256.3M262.5,250.5L266.5,255.6M289.6,250.5L292.6,257.4M316.7,250.5L319.7,257.6M343.8,250.5L346.0,262.0M370.9,250.5L376.5,253.0M398.0,250.5L405.7,248.1M425.1,250.5L433.2,247.4M452.2,250.5L463.2,245.3M479.3,250.5L493.0,239.8M506.4,250.5L516.7,241.5M533.5,250.5L541.0,242.4M560.6,250.5L565.1,242.7M587.7,250.5L592.3,240.8M614.8,250.5L617.1,239.6M641.9,250.5L638.3,237.8M669.0,250.5L664.3,237.5M696.1,250.5L695.7,239.6M723.2,250.5L722.9,240.7M750.3,250.5L749.4,240.2M777.4,250.5L776.5,238.9M18.6,283.2L21.6,287.0M45.7,283.2L48.7,286.3M72.8,283.2L76.5,287.6M99.9,283.2L105.8,289.2M127.0,283.2L131.2,289.3M154.1,283.2L158.5,290.3M181.2,283.2L186.2,291.2M208.3,283.2L212.4,290.1M235.4,283.2L238.4,291.2M262.5,283.2L265.5,289.8M289.6,283.2L291.7,290.2M316.7,283.2L318.0,293.6M343.8,283.2L347.9,286.3M370.9,283.2L378.7,283.2M398.0,283.2L403.4,282.0M425.1,283.2L436.7,277.3M452.2,283.2L464.0,275.4M479.3,283.2L489.2,273.5M506.4,283.2L514.4,273.5M533.5,283.2L538.4,276.3M560.6,283.2L559.1,279.9M587.7,283.2L597.0,271.6M614.8,283.2L619.5,271.5M641.9,283.2L636.3,270.9M669.0,283.2L661.4,270.4M696.1,283.2L694.7,274.0M723.2,283.2L724.3,276.6M750.3,283.2L752.9,277.2M777.4,283.2L777.7,275.9M18.6,316.0L20.4,319.5M45.7,316.0L47.2,318.8M72.8,316.0L73.9,318.1M99.9,316.0L102.5,320.8M127.0,316.0L130.0,322.0M154.1,316.0L157.5,322.9M181.2,316.0L186.1,324.0M208.3,316.0L211.5,322.8M235.4,316.0L237.4,323.0M262.5,316.0L265.1,322.1M289.6,316.0L290.9,322.8M316.7,316.0L321.6,319.1M343.8,316.0L347.9,319.7M370.9,316.0L376.1,313.0M398.0,316.0L407.9,309.2M425.1,316.0L436.7,305.7M452.2,316.0L462.0,310.8M479.3,316.0L487.2,309.1M506.4,316.0L514.2,308.5M533.5,316.0L538.5,309.0M560.6,316.0L567.0,308.2M587.7,316.0L590.6,308.9M614.8,316.0L613.6,308.6M641.9,316.0L643.4,304.4M669.0,316.0L675.2,304.3M696.1,316.0L693.7,310.1M723.2,316.0L724.2,312.7M750.3,316.0L758.4,313.0M777.4,316.0L776.3,312.4M18.6,348.8L18.9,352.4M45.7,348.8L46.7,351.8M72.8,348.8L73.6,352.3M99.9,348.8L100.3,353.6M127.0,348.8L126.1,353.8M154.1,348.8L155.0,355.8M181.2,348.8L180.4,358.5M208.3,348.8L210.3,355.2M235.4,348.8L236.5,355.6M262.5,348.8L266.0,353.9M289.6,348.8L294.5,353.7M316.7,348.8L319.1,353.5M343.8,348.8L347.2,350.5M370.9,348.8L378.0,342.1M398.0,348.8L409.6,340.2M425.1,348.8L434.9,344.6M452.2,348.8L459.2,342.9M479.3,348.8L484.4,343.7M506.4,348.8L513.0,341.9M533.5,348.8L534.0,341.9M560.6,348.8L559.8,341.8M587.7,348.8L587.5,342.9M614.8,348.8L612.6,344.7M641.9,348.8L636.6,341.5M669.0,348.8L664.2,344.7M696.1,348.8L689.0,345.9M723.2,348.8L713.0,346.8M750.3,348.8L732.5,346.8M777.4,348.8L769.8,347.1M18.6,381.5L16.8,385.9M45.7,381.5L41.0,386.5M72.8,381.5L73.1,386.2M99.9,381.5L99.9,386.5M127.0,381.5L128.1,386.5M154.1,381.5L156.2,386.5M181.2,381.5L183.2,385.6M208.3,381.5L211.4,385.8M235.4,381.5L238.4,384.5M262.5,381.5L267.0,385.3M289.6,381.5L293.0,388.0M316.7,381.5L326.5,384.3M343.8,381.5L353.7,383.1M370.9,381.5L380.9,373.9M398.0,381.5L409.7,371.3M425.1,381.5L433.9,377.6M452.2,381.5L457.2,379.3M479.3,381.5L482.8,377.4M506.4,381.5L507.7,376.6M533.5,381.5L536.0,374.7M560.6,381.5L559.7,376.5M587.7,381.5L588.5,376.6M614.8,381.5L615.6,378.3M641.9,381.5L639.8,375.6M669.0,381.5L662.3,379.8M696.1,381.5L689.6,381.6M723.2,381.5L716.6,382.2M750.3,381.5L743.6,381.4M777.4,381.5L770.7,381.3M18.6,414.2L20.9,417.7M45.7,414.2L48.6,417.5M72.8,414.2L77.5,419.2M99.9,414.2L100.0,419.2M127.0,414.2L128.9,419.2M154.1,414.2L156.3,419.3M181.2,414.2L186.1,422.1M208.3,414.2L212.2,418.2M235.4,414.2L238.5,417.2M262.5,414.2L269.4,418.7M289.6,414.2L297.7,412.6M316.7,414.2L329.4,412.3M343.8,414.2L360.0,410.5M370.9,414.2L385.1,407.2M398.0,414.2L407.9,412.3M425.1,414.2L432.0,416.0M452.2,414.2L455.2,416.8M479.3,414.2L475.2,409.5M506.4,414.2L504.0,408.5M533.5,414.2L530.7,407.3M560.6,414.2L556.1,411.5M587.7,414.2L586.3,410.6M614.8,414.2L613.1,411.7M641.9,414.2L639.5,412.9M669.0,414.2L666.2,413.6M696.1,414.2L696.4,418.4M723.2,414.2L722.7,417.9M750.3,414.2L747.2,414.1M777.4,414.2L775.0,412.1M18.6,447.0L19.8,451.5M45.7,447.0L48.0,451.9M72.8,447.0L77.5,452.0M99.9,447.0L101.6,452.0M127.0,447.0L129.9,452.0M154.1,447.0L156.8,451.4M181.2,447.0L184.7,450.5M208.3,447.0L211.4,450.0M235.4,447.0L240.8,448.6M262.5,447.0L269.6,447.0M289.6,447.0L299.5,444.2M316.7,447.0L329.4,442.4M343.8,447.0L356.3,445.2M370.9,447.0L379.0,447.9M398.0,447.0L407.6,449.0M425.1,447.0L430.1,451.7M452.2,447.0L455.3,451.7M479.3,447.0L482.2,446.2M506.4,447.0L509.4,442.9M533.5,447.0L536.3,441.5M560.6,447.0L564.3,439.4M587.7,447.0L585.9,444.6M614.8,447.0L610.1,446.1M641.9,447.0L639.9,448.8M669.0,447.0L666.2,445.4M696.1,447.0L698.8,451.7M750.3,447.0L746.9,442.0M777.4,447.0L766.6,438.7M18.6,479.8L17.7,484.9M45.7,479.8L42.8,484.8M72.8,479.8L68.2,487.5M99.9,479.8L98.8,485.0M127.0,479.8L122.4,484.7M154.1,479.8L156.3,482.6M181.2,479.8L183.3,481.7M208.3,479.8L213.9,480.6M235.4,479.8L240.6,481.6M262.5,479.8L269.7,478.9M289.6,479.8L302.1,477.0M316.7,479.8L325.4,479.8M343.8,479.8L351.8,481.7M370.9,479.8L377.8,481.8M398.0,479.8L403.0,483.7M425.1,479.8L428.2,486.3M452.2,479.8L454.4,482.7M479.3,479.8L484.3,481.3M506.4,479.8L514.0,474.9M533.5,479.8L542.8,473.0M560.6,479.8L567.9,474.9M587.7,479.8L581.3,481.4M669.0,479.8L666.0,482.2M696.1,479.8L693.4,482.6M723.2,479.8L721.2,484.7M750.3,479.8L750.5,486.4M777.4,479.8L775.0,481.2M18.6,512.5L21.6,518.4M45.7,512.5L47.7,517.5M72.8,512.5L75.2,517.9M99.9,512.5L102.9,517.5M127.0,512.5L130.8,515.9M154.1,512.5L159.1,514.5M181.2,512.5L188.3,512.6M208.3,512.5L218.2,509.6M235.4,512.5L243.5,510.9M262.5,512.5L270.4,511.4M289.6,512.5L297.5,512.6M316.7,512.5L321.8,515.4M343.8,512.5L349.3,515.4M370.9,512.5L375.8,516.5M398.0,512.5L400.1,519.3M425.1,512.5L426.2,520.2M452.2,512.5L453.5,517.1M479.3,512.5L486.9,509.5M506.4,512.5L513.7,506.0M533.5,512.5L536.6,506.1M560.6,512.5L562.6,507.6M587.7,512.5L588.9,510.4M614.8,512.5L616.9,514.3M641.9,512.5L646.6,517.4M669.0,512.5L662.1,518.3M696.1,512.5L692.8,510.5M723.2,512.5L716.8,526.2M750.3,512.5L752.2,521.9M777.4,512.5L778.2,517.0M18.6,545.2L23.7,553.2M45.7,545.2L55.5,552.2M72.8,545.2L80.4,550.7M99.9,545.2L109.8,550.2M127.0,545.2L135.8,547.7M154.1,545.2L166.0,545.3M181.2,545.2L191.2,544.5M208.3,545.2L220.2,542.3M235.4,545.2L245.2,543.4M262.5,545.2L271.3,544.3M289.6,545.2L294.7,548.2M316.7,545.2L322.1,547.8M343.8,545.2L348.7,548.3M370.9,545.2L373.0,552.1M398.0,545.2L398.2,553.1M425.1,545.2L426.2,552.9M452.2,545.2L454.3,547.1M479.3,545.2L486.5,536.4M506.4,545.2L504.0,542.3M533.5,545.2L535.3,547.8M560.6,545.2L557.1,543.3M587.7,545.2L590.5,542.5M614.8,545.2L617.2,547.1M641.9,545.2L646.5,550.2M669.0,545.2L671.5,551.5M696.1,545.2L693.4,543.6M723.2,545.2L725.8,540.9M750.3,545.2L755.0,543.4M18.6,578.0L24.6,584.9M45.7,578.0L52.9,584.3M72.8,578.0L80.0,583.2M99.9,578.0L107.8,582.3M127.0,578.0L135.2,580.5M154.1,578.0L163.4,578.9M181.2,578.0L190.3,577.9M208.3,578.0L217.7,576.9M235.4,578.0L244.1,577.2M262.5,578.0L270.0,578.2M289.6,578.0L295.6,579.7M316.7,578.0L322.0,580.4M343.8,578.0L348.1,581.5M370.9,578.0L373.8,583.0M398.0,578.0L400.0,583.5M425.1,578.0L427.2,582.5M452.2,578.0L455.0,579.2M479.3,578.0L482.4,576.1M506.4,578.0L508.1,576.2M587.7,578.0L590.6,579.9M614.8,578.0L614.7,580.1M641.9,578.0L639.1,581.0M669.0,578.0L667.9,580.4M696.1,578.0L693.2,579.9M750.3,578.0L747.4,576.0" stroke="#74747f" stroke-width="0.95" fill="none"/>
<path d="M21.4,59.4L23.6,61.0L22.8,58.4M48.6,59.5L50.9,61.2L50.0,58.5M76.5,61.4L79.5,63.6L78.5,60.1M104.1,62.8L107.5,65.4L106.4,61.2M131.3,61.9L134.6,64.2L133.4,60.4M158.8,60.1L161.9,61.5L160.3,58.5M186.5,58.9L189.6,59.8L187.7,57.2M214.2,58.1L217.4,58.5L215.1,56.2M242.2,57.1L245.5,56.9L242.8,55.0M270.0,56.4L273.4,55.9L270.4,54.2M297.0,55.7L300.3,54.9L297.2,53.5M324.1,54.6L327.2,53.3L324.0,52.4M351.6,53.9L354.7,52.3L351.3,51.7M378.2,53.7L381.1,52.0L377.8,51.6M404.7,53.4L407.3,51.7L404.3,51.5M431.6,53.1L434.0,51.5L431.0,51.3M457.2,52.8L459.2,51.0L456.5,51.2M482.2,53.2L483.9,51.1L481.2,51.7M509.1,52.1L510.0,49.5L507.7,51.0M536.8,47.4L536.8,44.0L534.8,46.7M565.9,42.5L565.8,37.4L562.8,41.5M597.1,39.4L597.8,34.4L594.2,37.9M623.7,37.6L624.2,32.5L620.7,36.2M649.2,34.5L648.9,29.4L646.0,33.6M673.7,32.4L672.8,27.4L670.5,31.9M698.2,31.9L696.6,27.1L694.9,31.9M725.1,29.8L723.5,25.0L721.8,29.8M752.6,29.9L751.1,25.1L749.3,29.8M779.9,31.0L778.4,26.1L776.6,30.9M21.4,92.2L23.7,93.8L22.9,91.2M48.7,92.5L51.0,94.2L50.2,91.4M76.9,95.8L80.4,98.6L79.3,94.3M104.2,96.6L107.9,99.7L106.8,95.0M131.3,95.8L134.9,98.5L133.7,94.2M159.1,93.5L162.4,95.2L160.8,91.8M186.9,93.1L190.5,94.5L188.5,91.2M214.4,92.7L218.1,93.9L215.9,90.7M243.0,90.3L246.7,90.2L243.7,88.0M271.3,89.5L275.3,88.8L271.7,86.9M298.0,89.2L301.9,88.5L298.4,86.7M324.7,87.4L328.0,86.0L324.5,85.0M352.4,86.6L355.8,84.8L352.0,84.1M379.0,86.6L382.2,84.9L378.6,84.3M405.1,86.4L407.8,84.8L404.7,84.4M432.3,86.4L435.0,84.8L431.9,84.3M457.3,86.5L459.7,85.0L456.9,84.7M479.6,87.7L482.3,87.2L479.8,85.9M534.2,85.3L533.0,82.9L532.5,85.6M562.6,70.3L561.1,65.4L559.4,70.2M602.5,69.7L604.1,64.9L599.9,67.8M625.0,70.6L625.7,65.6L622.1,69.1M650.0,64.9L649.8,59.9L646.9,64.0M674.8,61.0L674.0,56.0L671.6,60.5M698.8,65.0L697.4,60.1L695.5,64.8M725.2,63.8L723.7,59.0L722.0,63.7M752.6,62.8L751.1,57.9L749.4,62.7M779.7,64.1L778.2,59.3L776.4,64.0M21.8,125.1L24.3,126.7L23.3,123.9M49.4,126.1L52.2,128.0L51.1,124.8M77.1,127.7L80.5,130.1L79.2,126.1M104.3,128.3L107.9,130.9L106.7,126.7M131.6,127.4L135.0,129.6L133.6,125.8M159.3,126.1L162.7,127.6L161.0,124.3M187.2,126.6L191.1,128.3L189.0,124.6M214.4,126.7L218.3,128.4L216.2,124.7M242.3,124.0L245.9,124.5L243.3,121.9M270.9,122.3L274.8,121.7L271.4,119.8M297.6,122.3L301.4,121.8L298.1,119.9M324.2,121.5L327.7,120.8L324.5,119.3M351.4,120.0L354.6,118.6L351.3,117.8M377.9,119.9L380.7,118.6L377.7,117.9M404.2,120.4L406.9,119.5L404.2,118.6M431.2,120.4L433.8,119.5L431.2,118.6M457.2,120.0L459.7,118.9L457.1,118.3M483.6,121.0L486.3,120.4L483.8,119.2M507.0,122.2L509.1,124.0L508.5,121.3M544.6,107.1L546.1,102.3L541.9,105.2M569.0,109.1L570.1,104.2L566.2,107.4M598.2,106.6L599.5,101.7L595.5,104.8M623.7,105.2L624.4,100.2L620.8,103.7M648.2,101.7L647.8,96.7L645.0,100.9M672.4,95.8L671.1,90.9L669.1,95.5M698.7,101.5L697.3,96.6L695.4,101.3M725.0,101.7L723.4,96.9L721.7,101.7M750.9,101.6L749.0,96.9L747.6,101.8M778.3,102.2L776.4,97.5L775.0,102.4M22.0,157.5L24.4,159.0L23.3,156.4M49.7,158.8L52.6,160.5L51.4,157.3M77.7,160.4L81.3,162.6L79.8,158.6M105.1,160.8L108.9,163.2L107.3,159.0M131.9,160.0L135.4,162.1L133.9,158.3M159.0,158.2L162.2,159.6L160.5,156.6M186.8,158.1L190.2,159.4L188.2,156.3M214.1,158.0L217.5,159.1L215.5,156.1M241.2,156.5L244.4,157.1L242.2,154.7M269.3,155.5L272.6,155.4L269.9,153.4M297.6,155.5L301.5,155.2L298.2,153.1M324.4,155.4L328.1,155.0L325.0,153.0M350.0,154.0L352.8,153.4L350.2,152.1M376.5,153.5L379.2,152.8L376.7,151.8M403.4,155.1L406.2,155.1L404.0,153.4M430.4,155.7L433.1,156.0L431.1,154.1M458.7,152.4L461.3,151.1L458.5,150.5M487.3,150.3L490.1,147.9L486.4,148.1M517.8,146.6L520.8,142.5L515.9,143.9M550.3,134.9L552.1,130.2L547.8,132.8M574.3,140.2L576.4,135.6L571.9,138.0M603.3,138.9L605.5,134.3L600.9,136.6M624.3,141.4L625.7,136.6L621.6,139.6M651.2,142.0L652.6,137.2L648.5,140.1M674.1,140.0L673.8,134.9L670.9,139.1M697.9,142.0L696.6,137.5L694.9,141.9M725.8,140.3L724.5,135.4L722.5,140.1M752.5,141.5L751.1,136.8L749.3,141.3M779.1,139.5L777.4,134.7L775.8,139.5M21.2,189.4L23.6,190.8L22.6,188.3M49.0,190.4L51.5,191.9L50.4,189.2M77.1,192.0L80.2,193.9L78.9,190.5M104.6,192.8L108.1,194.9L106.6,191.1M131.3,191.5L134.3,193.2L133.0,190.0M158.8,190.2L161.7,191.3L160.1,188.6M187.7,190.2L191.3,190.9L188.9,188.1M215.0,190.2L218.7,190.9L216.2,188.1M240.4,189.3L243.3,190.0L241.4,187.7M266.9,188.5L269.6,189.0L267.8,187.0M294.9,188.3L297.6,188.5L295.6,186.6M321.5,188.0L324.3,188.1L322.2,186.3M347.9,187.2L350.6,187.2L348.4,185.6M375.7,186.5L378.4,185.9L375.9,184.7M403.9,187.3L406.7,187.0L404.3,185.5M431.1,187.8L434.1,187.7L431.7,186.0M459.9,184.5L462.9,182.7L459.4,182.3M488.7,185.9L492.6,184.3L488.6,183.1M521.6,177.7L524.8,173.8L519.9,174.9M547.8,176.6L550.7,172.5L545.8,174.0M578.7,171.5L581.3,167.2L576.6,169.1M598.6,174.9L600.5,170.2L596.2,172.8M621.7,176.9L622.8,172.3L619.1,175.3M650.4,178.1L652.4,173.6L648.1,176.0M674.3,172.5L674.1,167.4L671.2,171.6M699.5,176.0L699.1,171.8L696.8,175.4M727.5,176.9L727.6,172.8L725.0,176.0M751.2,175.8L749.6,171.9L748.5,175.9M778.9,175.4L777.6,171.3L776.1,175.4M20.4,221.5L22.7,223.1L21.8,220.5M47.6,221.9L49.9,223.4L49.0,220.8M75.1,222.2L77.4,223.7L76.5,221.1M102.6,222.6L104.8,224.2L104.0,221.6M129.6,222.7L131.8,224.3L131.0,221.6M157.5,222.6L160.0,223.9L158.8,221.4M186.7,222.8L189.9,223.6L187.9,221.0M213.9,222.7L217.1,223.6L215.0,220.9M238.6,222.0L241.1,223.1L239.8,220.7M264.6,221.6L266.9,223.0L265.9,220.4M291.4,221.8L293.6,223.4L292.8,220.8M318.4,222.1L320.6,223.8L319.9,221.1M345.7,222.2L347.9,223.9L347.2,221.3M374.2,219.8L377.0,219.8L374.8,218.1M403.6,218.1L406.1,217.0L403.4,216.3M431.6,217.2L434.1,215.7L431.2,215.4M460.2,215.3L462.9,212.7L459.1,213.1M489.5,213.7L492.8,210.0L487.9,210.9M520.2,210.1L523.2,206.0L518.3,207.4M544.2,211.4L547.0,207.1L542.2,208.8M569.9,210.3L572.0,205.7L567.5,208.1M592.2,210.5L592.6,206.7L590.0,209.5M616.6,210.8L615.9,207.6L614.6,210.6M644.0,208.8L643.0,204.8L641.4,208.5M670.6,207.4L669.1,202.9L667.6,207.3M697.8,210.7L697.1,207.6L695.8,210.5M723.5,212.0L722.3,209.6L721.7,212.2M751.1,210.3L749.8,207.1L748.9,210.4M778.2,209.5L776.9,206.1L775.8,209.6M20.1,254.1L22.3,255.6L21.5,253.0M47.5,254.8L49.7,256.5L49.0,253.8M74.6,254.4L76.8,255.9L76.0,253.3M102.2,255.1L104.4,256.6L103.6,254.0M128.9,255.7L131.0,257.5L130.5,254.8M156.3,255.5L158.5,257.1L157.8,254.5M183.9,255.4L186.2,256.9L185.3,254.3M211.0,255.1L213.3,256.5L212.3,253.9M237.3,254.7L239.6,256.3L238.8,253.6M264.2,254.1L266.5,255.6L265.6,253.0M290.8,255.4L292.6,257.4L292.4,254.7M317.9,255.5L319.7,257.6L319.5,254.8M344.1,258.7L346.0,262.0L346.5,258.3M373.7,252.7L376.5,253.0L374.5,251.1M403.5,249.7L405.7,248.1L403.0,248.0M431.1,249.1L433.2,247.4L430.5,247.5M460.4,248.0L463.2,245.3L459.4,245.8M490.2,244.0L493.0,239.8L488.2,241.5M514.6,245.2L516.7,241.5L512.7,243.1M539.6,245.6L541.0,242.4L537.9,244.1M564.6,245.5L565.1,242.7L563.0,244.6M591.9,244.2L592.3,240.8L590.0,243.2M617.5,243.1L617.1,239.6L615.3,242.7M640.7,241.3L638.3,237.8L638.1,242.0M667.1,240.9L664.3,237.5L664.4,241.8M697.0,242.8L695.7,239.6L694.7,242.9M724.0,243.6L722.9,240.7L722.0,243.7M750.7,243.2L749.4,240.2L748.6,243.4M778.0,242.3L776.5,238.9L775.6,242.5M19.3,285.5L21.6,287.0L20.7,284.4M46.2,285.1L48.7,286.3L47.5,283.8M74.2,286.2L76.5,287.6L75.5,285.0M103.4,288.0L105.8,289.2L104.6,286.8M129.0,287.7L131.2,289.3L130.5,286.7M156.4,288.6L158.5,290.3L157.9,287.6M183.9,289.3L186.2,291.2L185.5,288.3M210.3,288.3L212.4,290.1L211.8,287.4M236.7,289.0L238.4,291.2L238.3,288.4M263.6,287.8L265.5,289.8L265.2,287.0M290.1,288.0L291.7,290.2L291.8,287.5M316.5,290.6L318.0,293.6L318.6,290.4M345.3,285.4L347.9,286.3L346.3,284.0M376.1,284.1L378.7,283.2L376.1,282.3M401.0,283.4L403.4,282.0L400.6,281.7M433.9,280.3L436.7,277.3L432.6,277.9M461.2,278.9L464.0,275.4L459.6,276.5M487.2,277.4L489.2,273.5L485.2,275.4M513.0,277.2L514.4,273.5L511.0,275.6M537.6,278.9L538.4,276.3L536.2,277.9M561.0,281.9L559.1,279.9L559.4,282.6M595.4,276.0L597.0,271.6L593.0,274.1M619.3,275.5L619.5,271.5L616.9,274.5M639.2,274.0L636.3,270.9L636.7,275.1M665.0,273.5L661.4,270.4L662.3,275.0M696.1,276.6L694.7,274.0L694.2,276.9M724.8,279.3L724.3,276.6L723.0,279.0M752.7,279.9L752.9,277.2L751.1,279.2M778.5,278.6L777.7,275.9L776.7,278.5M18.4,317.6L20.4,319.5L20.0,316.8M45.2,316.9L47.2,318.8L46.8,316.1M71.9,316.2L73.9,318.1L73.5,315.4M100.5,318.9L102.5,320.8L102.0,318.1M128.0,320.0L130.0,322.0L129.6,319.3M155.6,320.9L157.5,322.9L157.1,320.1M183.8,322.1L186.1,324.0L185.4,321.1M209.6,320.8L211.5,322.8L211.2,320.1M235.9,320.7L237.4,323.0L237.6,320.2M263.2,320.0L265.1,322.1L264.9,319.3M289.5,320.4L290.9,322.8L291.3,320.1M318.9,318.5L321.6,319.1L319.9,317.0M345.4,318.6L347.9,319.7L346.6,317.3M374.3,315.1L376.1,313.0L373.4,313.6M405.6,312.2L407.9,309.2L404.2,310.2M434.3,310.0L436.7,305.7L432.2,307.6M459.6,313.4L462.0,310.8L458.6,311.4M485.6,311.9L487.2,309.1L484.1,310.3M512.6,311.6L514.2,308.5L511.1,310.0M537.7,311.6L538.5,309.0L536.3,310.6M565.9,311.2L567.0,308.2L564.3,309.9M590.4,311.7L590.6,308.9L588.8,311.0M614.9,311.1L613.6,308.6L613.1,311.3M644.1,308.0L643.4,304.4L641.8,307.7M674.6,308.5L675.2,304.3L672.2,307.2M695.5,312.2L693.7,310.1L693.9,312.8M724.3,315.4L724.2,312.7L722.6,314.9M756.3,314.7L758.4,313.0L755.7,313.1M777.9,314.6L776.3,312.4L776.2,315.2M17.8,349.9L18.9,352.4L19.6,349.7M45.0,349.6L46.7,351.8L46.7,349.0M72.2,350.0L73.6,352.3L73.9,349.6M99.2,351.0L100.3,353.6L101.0,350.9M125.7,351.1L126.1,353.8L127.5,351.4M153.8,353.3L155.0,355.8L155.6,353.1M179.6,355.5L180.4,358.5L181.6,355.7M208.7,353.0L210.3,355.2L210.4,352.4M235.2,353.2L236.5,355.6L237.0,352.9M263.8,352.2L266.0,353.9L265.3,351.2M292.0,352.5L294.5,353.7L293.3,351.2M317.1,351.6L319.1,353.5L318.7,350.8M344.4,350.1L347.2,350.5L345.2,348.5M376.6,344.8L378.0,342.1L375.2,343.4M407.0,343.9L409.6,340.2L405.3,341.6M432.4,346.8L434.9,344.6L431.5,344.8M457.7,345.4L459.2,342.9L456.5,343.9M483.1,346.1L484.4,343.7L481.9,344.9M511.7,344.6L513.0,341.9L510.3,343.3M534.7,344.5L534.0,341.9L532.9,344.4M561.0,344.3L559.8,341.8L559.2,344.5M588.5,345.5L587.5,342.9L586.7,345.5M614.6,346.6L612.6,344.7L613.1,347.4M638.9,343.1L636.6,341.5L637.5,344.2M666.7,345.7L664.2,344.7L665.6,347.0M691.8,346.1L689.0,345.9L691.1,347.7M716.3,346.3L713.0,346.8L715.9,348.4M737.5,345.7L732.5,346.8L737.1,349.0M772.6,346.8L769.8,347.1L772.2,348.5M16.9,383.2L16.8,385.9L18.6,383.9M42.1,384.0L41.0,386.5L43.4,385.2M72.1,383.7L73.1,386.2L73.8,383.5M99.0,383.9L99.9,386.5L100.8,383.9M126.7,384.1L128.1,386.5L128.4,383.7M154.4,384.5L156.2,386.5L156.0,383.8M181.3,383.7L183.2,385.6L182.9,382.9M209.1,384.2L211.4,385.8L210.6,383.2M236.0,383.3L238.4,384.5L237.2,382.1M264.5,384.3L267.0,385.3L265.6,383.0M291.0,386.1L293.0,388.0L292.6,385.3M323.3,384.5L326.5,384.3L323.8,382.5M350.6,383.6L353.7,383.1L350.9,381.6M378.7,377.2L380.9,373.9L377.1,375.2M407.2,375.5L409.7,371.3L405.1,373.1M431.7,379.6L433.9,377.6L430.9,377.8M455.1,381.2L457.2,379.3L454.4,379.6M481.8,380.0L482.8,377.4L480.4,378.8M507.9,379.4L507.7,376.6L506.2,378.9M535.9,377.5L536.0,374.7L534.3,376.9M561.0,378.9L559.7,376.5L559.3,379.2M588.9,379.3L588.5,376.6L587.2,379.0M615.8,381.0L615.6,378.3L614.1,380.6M641.5,377.8L639.8,375.6L639.9,378.4M665.1,379.6L662.3,379.8L664.6,381.3M692.2,380.7L689.6,381.6L692.2,382.4M719.1,381.1L716.6,382.2L719.3,382.8M746.2,380.6L743.6,381.4L746.2,382.3M773.3,380.5L770.7,381.3L773.3,382.3M18.7,416.0L20.9,417.7L20.2,415.1M46.2,416.2L48.6,417.5L47.6,415.0M75.1,417.9L77.5,419.2L76.3,416.7M99.1,416.7L100.0,419.2L100.8,416.6M127.1,417.1L128.9,419.2L128.8,416.4M154.4,417.3L156.3,419.3L156.1,416.6M183.8,420.2L186.1,422.1L185.4,419.2M209.8,417.0L212.2,418.2L211.0,415.8M236.0,416.1L238.5,417.2L237.3,414.8M266.7,418.0L269.4,418.7L267.7,416.5M295.3,414.0L297.7,412.6L295.0,412.3M325.8,414.2L329.4,412.3L325.4,411.6M355.7,413.1L360.0,410.5L355.0,410.0M381.6,410.8L385.1,407.2L380.1,407.9M405.1,413.9L407.9,412.3L404.7,411.9M429.3,416.2L432.0,416.0L429.7,414.5M452.6,415.8L455.2,416.8L453.7,414.4M477.6,410.9L475.2,409.5L476.3,412.1M505.8,410.6L504.0,408.5L504.2,411.2M532.5,409.4L530.7,407.3L530.8,410.1M558.8,412.1L556.1,411.5L557.9,413.6M588.1,412.7L586.3,410.6L586.4,413.4M615.3,413.4L613.1,411.7L613.8,414.4M642.2,413.4L639.5,412.9L641.3,414.9M669.0,413.3L666.2,413.6L668.6,415.1M695.3,415.9L696.4,418.4L697.1,415.7M722.2,415.2L722.7,417.9L723.9,415.4M749.8,413.3L747.2,414.1L749.8,415.1M777.5,413.2L775.0,412.1L776.4,414.5M18.3,449.3L19.8,451.5L20.0,448.8M46.1,449.9L48.0,451.9L47.7,449.2M75.1,450.7L77.5,452.0L76.4,449.5M99.9,449.8L101.6,452.0L101.6,449.2M127.8,450.2L129.9,452.0L129.4,449.3M154.7,449.6L156.8,451.4L156.2,448.7M182.2,449.3L184.7,450.5L183.5,448.1M208.9,448.8L211.4,450.0L210.1,447.5M238.0,448.7L240.8,448.6L238.5,447.0M267.0,447.9L269.6,447.0L267.0,446.1M296.8,446.1L299.5,444.2L296.2,444.1M326.0,445.1L329.4,442.4L325.1,442.5M352.8,447.0L356.3,445.2L352.4,444.5M376.3,448.5L379.0,447.9L376.5,446.7M404.5,449.4L407.6,449.0L404.9,447.4M427.6,450.6L430.1,451.7L428.8,449.3M453.1,450.0L455.3,451.7L454.6,449.0M479.9,447.8L482.2,446.2L479.4,446.1M508.6,445.5L509.4,442.9L507.1,444.5M535.9,444.2L536.3,441.5L534.3,443.4M564.0,442.1L564.3,439.4L562.4,441.3M588.2,446.2L585.9,444.6L586.8,447.2M612.8,445.7L610.1,446.1L612.5,447.4M641.3,446.4L639.9,448.8L642.4,447.7M668.9,445.9L666.2,445.4L668.0,447.4M696.7,449.9L698.8,451.7L698.3,449.0M749.1,443.7L746.9,442.0L747.6,444.7M770.7,440.1L766.6,438.7L769.0,442.3M17.3,482.2L17.7,484.9L19.0,482.5M43.3,482.1L42.8,484.8L44.9,483.0M68.8,484.7L68.2,487.5L70.4,485.7M98.5,482.2L98.8,485.0L100.2,482.6M123.5,482.2L122.4,484.7L124.8,483.4M154.0,481.1L156.3,482.6L155.4,480.0M180.8,480.6L183.3,481.7L182.0,479.3M211.2,481.1L213.9,480.6L211.5,479.3M237.8,481.5L240.6,481.6L238.4,479.9M267.2,480.1L269.7,478.9L267.0,478.3M298.6,479.1L302.1,477.0L298.0,476.6M322.8,480.7L325.4,479.8L322.8,478.9M349.0,481.9L351.8,481.7L349.4,480.2M375.1,481.9L377.8,481.8L375.6,480.2M400.4,482.8L403.0,483.7L401.5,481.4M426.3,484.4L428.2,486.3L427.9,483.6M452.1,481.1L454.4,482.7L453.6,480.1M481.6,481.4L484.3,481.3L482.1,479.7M512.2,477.1L514.0,474.9L511.3,475.6M540.7,476.0L542.8,473.0L539.3,474.1M566.2,477.1L567.9,474.9L565.2,475.6M583.6,479.9L581.3,481.4L584.0,481.6M667.5,479.9L666.0,482.2L668.6,481.2M694.6,480.1L693.4,482.6L695.8,481.3M721.3,481.9L721.2,484.7L723.0,482.6M749.5,483.8L750.5,486.4L751.3,483.8M776.8,479.1L775.0,481.2L777.7,480.6M19.6,516.4L21.6,518.4L21.2,515.6M45.9,515.5L47.7,517.5L47.6,514.8M73.3,515.9L75.2,517.9L74.9,515.2M100.8,515.7L102.9,517.5L102.3,514.8M128.2,514.8L130.8,515.9L129.4,513.5M156.4,514.4L159.1,514.5L157.0,512.7M185.6,513.4L188.3,512.6L185.7,511.7M215.5,511.5L218.2,509.6L214.9,509.5M241.2,512.3L243.5,510.9L240.8,510.5M268.0,512.6L270.4,511.4L267.7,510.9M294.9,513.4L297.5,512.6L294.9,511.7M319.1,514.9L321.8,515.4L320.0,513.3M346.6,515.0L349.3,515.4L347.4,513.4M373.3,515.6L375.8,516.5L374.4,514.2M398.5,517.1L400.1,519.3L400.2,516.6M425.0,517.7L426.2,520.2L426.7,517.5M451.9,514.9L453.5,517.1L453.6,514.4M484.8,511.3L486.9,509.5L484.2,509.7M512.2,508.7L513.7,506.0L510.9,507.2M536.2,508.8L536.6,506.1L534.7,508.1M562.4,510.4L562.6,507.6L560.8,509.7M588.4,513.1L588.9,510.4L586.9,512.2M614.3,513.2L616.9,514.3L615.4,511.9M644.2,516.1L646.6,517.4L645.5,514.9M663.6,515.9L662.1,518.3L664.7,517.3M695.5,511.1L692.8,510.5L694.6,512.6M717.3,521.5L716.8,526.2L720.1,522.8M750.6,519.2L752.2,521.9L752.6,518.9M776.9,514.6L778.2,517.0L778.6,514.3M21.3,551.3L23.7,553.2L23.0,550.3M51.8,551.1L55.5,552.2L53.2,549.1M77.5,549.9L80.4,550.7L78.7,548.3M106.3,549.7L109.8,550.2L107.3,547.7M132.9,547.9L135.8,547.7L133.4,546.1M162.4,546.5L166.0,545.3L162.4,544.1M188.3,545.7L191.2,544.5L188.1,543.7M216.9,544.4L220.2,542.3L216.3,542.0M242.5,545.0L245.2,543.4L242.1,543.0M268.8,545.5L271.3,544.3L268.6,543.7M292.0,547.6L294.7,548.2L292.9,546.1M319.4,547.5L322.1,547.8L320.1,545.9M346.1,547.7L348.7,548.3L347.0,546.2M371.4,549.9L373.0,552.1L373.1,549.4M397.2,550.5L398.2,553.1L399.0,550.5M424.9,550.5L426.2,552.9L426.7,550.2M451.8,546.1L454.3,547.1L453.0,544.7M485.2,539.8L486.5,536.4L483.4,538.4M506.3,543.8L504.0,542.3L505.0,544.9M533.1,546.2L535.3,547.8L534.5,545.2M559.8,543.8L557.1,543.3L558.9,545.3M589.2,545.0L590.5,542.5L588.0,543.7M614.6,546.2L617.2,547.1L615.7,544.8M644.1,548.9L646.5,550.2L645.4,547.7M669.7,549.4L671.5,551.5L671.4,548.8M696.1,544.2L693.4,543.6L695.1,545.7M725.2,543.6L725.8,540.9L723.7,542.7M752.9,545.2L755.0,543.4L752.2,543.5M22.1,583.4L24.6,584.9L23.5,582.2M50.1,583.2L52.9,584.3L51.4,581.7M77.3,582.4L80.0,583.2L78.4,580.9M105.0,581.8L107.8,582.3L105.9,580.2M132.5,580.6L135.2,580.5L133.0,578.9M160.5,579.6L163.4,578.9L160.7,577.7M187.6,578.9L190.3,577.9L187.6,577.0M215.0,578.2L217.7,576.9L214.8,576.3M241.6,578.3L244.1,577.2L241.4,576.6M267.3,579.0L270.0,578.2L267.4,577.3M292.9,579.8L295.6,579.7L293.3,578.1M319.3,580.1L322.0,580.4L320.0,578.5M345.5,580.6L348.1,581.5L346.6,579.2M371.7,581.2L373.8,583.0L373.3,580.3M398.3,581.4L400.0,583.5L399.9,580.8M425.3,580.5L427.2,582.5L426.9,579.8M452.3,579.0L455.0,579.2L453.0,577.4M480.7,578.2L482.4,576.1L479.7,576.7M506.9,578.7L508.1,576.2L505.6,577.5M588.0,579.2L590.6,579.9L588.9,577.7M613.9,577.5L614.7,580.1L615.7,577.6M640.2,578.5L639.1,581.0L641.5,579.7M668.2,577.7L667.9,580.4L669.8,578.4M694.9,577.8L693.2,579.9L695.9,579.2M750.1,576.8L747.4,576.0L749.1,578.2" fill="#74747f" fill-opacity="0.35" stroke="#74747f" stroke-width="0.8" stroke-linejoin="miter"/>
<rect x="312.0" y="94.7" width="19" height="9.6" fill="#fff"/>
<text x="321.5" y="103.0" font-size="10" text-anchor="middle" textLength="16.5" lengthAdjust="spacingAndGlyphs" fill="#111">146</text>
<rect x="20.0" y="288.7" width="7" height="9.6" fill="#fff"/>
<text x="23.5" y="297.0" font-size="10" text-anchor="middle" textLength="4.5" lengthAdjust="spacingAndGlyphs" fill="#111">5</text>
<rect x="514.0" y="73.7" width="7" height="9.6" fill="#fff"/>
<text x="517.5" y="82.0" font-size="10" text-anchor="middle" textLength="4.5" lengthAdjust="spacingAndGlyphs" fill="#111">5</text>
<rect x="459.0" y="100.2" width="7" height="9.6" fill="#fff"/>
<text x="462.5" y="108.5" font-size="10" text-anchor="middle" textLength="4.5" lengthAdjust="spacingAndGlyphs" fill="#111">5</text>
<rect x="459.0" y="124.2" width="7" height="9.6" fill="#fff"/>
<text x="462.5" y="132.5" font-size="10" text-anchor="middle" textLength="4.5" lengthAdjust="spacingAndGlyphs" fill="#111">5</text>
<rect x="491.5" y="158.7" width="19" height="9.6" fill="#fff"/>
<text x="501.0" y="167.0" font-size="10" text-anchor="middle" textLength="16.5" lengthAdjust="spacingAndGlyphs" fill="#111">146</text>
<rect x="437.0" y="214.2" width="19" height="9.6" fill="#fff"/>
<text x="446.5" y="222.5" font-size="10" text-anchor="middle" textLength="16.5" lengthAdjust="spacingAndGlyphs" fill="#111">148</text>
<rect x="705.5" y="124.2" width="13" height="9.6" fill="#fff"/>
<text x="712.0" y="132.5" font-size="10" text-anchor="middle" textLength="10.5" lengthAdjust="spacingAndGlyphs" fill="#111">20</text>
<rect x="760.0" y="187.7" width="13" height="9.6" fill="#fff"/>
<text x="766.5" y="196.0" font-size="10" text-anchor="middle" textLength="10.5" lengthAdjust="spacingAndGlyphs" fill="#111">20</text>
<rect x="646.5" y="240.2" width="13" height="9.6" fill="#fff"/>
<text x="653.0" y="248.5" font-size="10" text-anchor="middle" textLength="10.5" lengthAdjust="spacingAndGlyphs" fill="#111">25</text>
<rect x="629.5" y="250.7" width="13" height="9.6" fill="#fff"/>
<text x="636.0" y="259.0" font-size="10" text-anchor="middle" textLength="10.5" lengthAdjust="spacingAndGlyphs" fill="#111">25</text>
<rect x="586.5" y="254.2" width="13" height="9.6" fill="#fff"/>
<text x="593.0" y="262.5" font-size="10" text-anchor="middle" textLength="10.5" lengthAdjust="spacingAndGlyphs" fill="#111">20</text>
<rect x="626.5" y="282.7" width="19" height="9.6" fill="#fff"/>
<text x="636.0" y="291.0" font-size="10" text-anchor="middle" textLength="16.5" lengthAdjust="spacingAndGlyphs" fill="#111">154</text>
<rect x="740.5" y="270.2" width="19" height="9.6" fill="#fff"/>
<text x="750.0" y="278.5" font-size="10" text-anchor="middle" textLength="16.5" lengthAdjust="spacingAndGlyphs" fill="#111">156</text>
<rect x="529.5" y="295.2" width="19" height="9.6" fill="#fff"/>
<text x="539.0" y="303.5" font-size="10" text-anchor="middle" textLength="16.5" lengthAdjust="spacingAndGlyphs" fill="#111">152</text>
<rect x="42.5" y="311.2" width="7" height="9.6" fill="#fff"/>
<text x="46.0" y="319.5" font-size="10" text-anchor="middle" textLength="4.5" lengthAdjust="spacingAndGlyphs" fill="#111">5</text>
<rect x="93.5" y="398.7" width="13" height="9.6" fill="#fff"/>
<text x="100.0" y="407.0" font-size="10" text-anchor="middle" textLength="10.5" lengthAdjust="spacingAndGlyphs" fill="#111">10</text>
<rect x="147.5" y="394.7" width="13" height="9.6" fill="#fff"/>
<text x="154.0" y="403.0" font-size="10" text-anchor="middle" textLength="10.5" lengthAdjust="spacingAndGlyphs" fill="#111">10</text>
<rect x="334.0" y="389.2" width="19" height="9.6" fill="#fff"/>
<text x="343.5" y="397.5" font-size="10" text-anchor="middle" textLength="16.5" lengthAdjust="spacingAndGlyphs" fill="#111">150</text>
<rect x="386.0" y="403.7" width="13" height="9.6" fill="#fff"/>
<text x="392.5" y="412.0" font-size="10" text-anchor="middle" textLength="10.5" lengthAdjust="spacingAndGlyphs" fill="#111">15</text>
<rect x="277.5" y="417.2" width="13" height="9.6" fill="#fff"/>
<text x="284.0" y="425.5" font-size="10" text-anchor="middle" textLength="10.5" lengthAdjust="spacingAndGlyphs" fill="#111">15</text>
<rect x="163.5" y="478.2" width="13" height="9.6" fill="#fff"/>
<text x="170.0" y="486.5" font-size="10" text-anchor="middle" textLength="10.5" lengthAdjust="spacingAndGlyphs" fill="#111">15</text>
<rect x="327.0" y="523.7" width="13" height="9.6" fill="#fff"/>
<text x="333.5" y="532.0" font-size="10" text-anchor="middle" textLength="10.5" lengthAdjust="spacingAndGlyphs" fill="#111">15</text>
<rect x="101.0" y="557.7" width="19" height="9.6" fill="#fff"/>
<text x="110.5" y="566.0" font-size="10" text-anchor="middle" textLength="16.5" lengthAdjust="spacingAndGlyphs" fill="#111">152</text>
<rect x="518.5" y="310.2" width="19" height="9.6" fill="#fff"/>
<text x="528.0" y="318.5" font-size="10" text-anchor="middle" textLength="16.5" lengthAdjust="spacingAndGlyphs" fill="#111">152</text>
<rect x="523.5" y="361.7" width="19" height="9.6" fill="#fff"/>
<text x="533.0" y="370.0" font-size="10" text-anchor="middle" textLength="16.5" lengthAdjust="spacingAndGlyphs" fill="#111">154</text>
<rect x="505.0" y="387.7" width="13" height="9.6" fill="#fff"/>
<text x="511.5" y="396.0" font-size="10" text-anchor="middle" textLength="10.5" lengthAdjust="spacingAndGlyphs" fill="#111">20</text>
<rect x="576.0" y="340.2" width="13" height="9.6" fill="#fff"/>
<text x="582.5" y="348.5" font-size="10" text-anchor="middle" textLength="10.5" lengthAdjust="spacingAndGlyphs" fill="#111">25</text>
<rect x="565.0" y="397.7" width="13" height="9.6" fill="#fff"/>
<text x="571.5" y="406.0" font-size="10" text-anchor="middle" textLength="10.5" lengthAdjust="spacingAndGlyphs" fill="#111">25</text>
<rect x="613.0" y="407.2" width="13" height="9.6" fill="#fff"/>
<text x="619.5" y="415.5" font-size="10" text-anchor="middle" textLength="10.5" lengthAdjust="spacingAndGlyphs" fill="#111">25</text>
<rect x="646.0" y="410.2" width="13" height="9.6" fill="#fff"/>
<text x="652.5" y="418.5" font-size="10" text-anchor="middle" textLength="10.5" lengthAdjust="spacingAndGlyphs" fill="#111">20</text>
<rect x="684.0" y="320.7" width="13" height="9.6" fill="#fff"/>
<text x="690.5" y="329.0" font-size="10" text-anchor="middle" textLength="10.5" lengthAdjust="spacingAndGlyphs" fill="#111">20</text>
<rect x="692.0" y="363.2" width="19" height="9.6" fill="#fff"/>
<text x="701.5" y="371.5" font-size="10" text-anchor="middle" textLength="16.5" lengthAdjust="spacingAndGlyphs" fill="#111">156</text>
<rect x="732.5" y="361.7" width="13" height="9.6" fill="#fff"/>
<text x="739.0" y="370.0" font-size="10" text-anchor="middle" textLength="10.5" lengthAdjust="spacingAndGlyphs" fill="#111">20</text>
<rect x="448.0" y="524.7" width="19" height="9.6" fill="#fff"/>
<text x="457.5" y="533.0" font-size="10" text-anchor="middle" textLength="16.5" lengthAdjust="spacingAndGlyphs" fill="#111">152</text>
<rect x="499.0" y="563.2" width="13" height="9.6" fill="#fff"/>
<text x="505.5" y="571.5" font-size="10" text-anchor="middle" textLength="10.5" lengthAdjust="spacingAndGlyphs" fill="#111">25</text>
<rect x="543.0" y="545.2" width="13" height="9.6" fill="#fff"/>
<text x="549.5" y="553.5" font-size="10" text-anchor="middle" textLength="10.5" lengthAdjust="spacingAndGlyphs" fill="#111">30</text>
<rect x="570.5" y="540.2" width="13" height="9.6" fill="#fff"/>
<text x="577.0" y="548.5" font-size="10" text-anchor="middle" textLength="10.5" lengthAdjust="spacingAndGlyphs" fill="#111">20</text>
<rect x="576.0" y="502.7" width="13" height="9.6" fill="#fff"/>
<text x="582.5" y="511.0" font-size="10" text-anchor="middle" textLength="10.5" lengthAdjust="spacingAndGlyphs" fill="#111">25</text>
<rect x="591.5" y="497.2" width="13" height="9.6" fill="#fff"/>
<text x="598.0" y="505.5" font-size="10" text-anchor="middle" textLength="10.5" lengthAdjust="spacingAndGlyphs" fill="#111">25</text>
<rect x="605.5" y="499.2" width="19" height="9.6" fill="#fff"/>
<text x="615.0" y="507.5" font-size="10" text-anchor="middle" textLength="16.5" lengthAdjust="spacingAndGlyphs" fill="#111">156</text>
<rect x="588.0" y="476.7" width="19" height="9.6" fill="#fff"/>
<text x="597.5" y="485.0" font-size="10" text-anchor="middle" textLength="16.5" lengthAdjust="spacingAndGlyphs" fill="#111">154</text>
<rect x="593.5" y="485.2" width="19" height="9.6" fill="#fff"/>
<text x="603.0" y="493.5" font-size="10" text-anchor="middle" textLength="16.5" lengthAdjust="spacingAndGlyphs" fill="#111">154</text>
<rect x="624.0" y="465.2" width="13" height="9.6" fill="#fff"/>
<text x="630.5" y="473.5" font-size="10" text-anchor="middle" textLength="10.5" lengthAdjust="spacingAndGlyphs" fill="#111">25</text>
<rect x="629.5" y="470.7" width="13" height="9.6" fill="#fff"/>
<text x="636.0" y="479.0" font-size="10" text-anchor="middle" textLength="10.5" lengthAdjust="spacingAndGlyphs" fill="#111">25</text>
<rect x="667.5" y="465.7" width="13" height="9.6" fill="#fff"/>
<text x="674.0" y="474.0" font-size="10" text-anchor="middle" textLength="10.5" lengthAdjust="spacingAndGlyphs" fill="#111">25</text>
<rect x="656.0" y="483.2" width="13" height="9.6" fill="#fff"/>
<text x="662.5" y="491.5" font-size="10" text-anchor="middle" textLength="10.5" lengthAdjust="spacingAndGlyphs" fill="#111">25</text>
<rect x="710.5" y="473.2" width="13" height="9.6" fill="#fff"/>
<text x="717.0" y="481.5" font-size="10" text-anchor="middle" textLength="10.5" lengthAdjust="spacingAndGlyphs" fill="#111">25</text>
<rect x="731.0" y="478.7" width="19" height="9.6" fill="#fff"/>
<text x="740.5" y="487.0" font-size="10" text-anchor="middle" textLength="16.5" lengthAdjust="spacingAndGlyphs" fill="#111">154</text>
<rect x="718.5" y="491.7" width="19" height="9.6" fill="#fff"/>
<text x="728.0" y="500.0" font-size="10" text-anchor="middle" textLength="16.5" lengthAdjust="spacingAndGlyphs" fill="#111">156</text>
<rect x="719.5" y="530.7" width="19" height="9.6" fill="#fff"/>
<text x="729.0" y="539.0" font-size="10" text-anchor="middle" textLength="16.5" lengthAdjust="spacingAndGlyphs" fill="#111">154</text>
<rect x="730.0" y="536.7" width="19" height="9.6" fill="#fff"/>
<text x="739.5" y="545.0" font-size="10" text-anchor="middle" textLength="16.5" lengthAdjust="spacingAndGlyphs" fill="#111">156</text>
<rect x="732.5" y="550.7" width="13" height="9.6" fill="#fff"/>
<text x="739.0" y="559.0" font-size="10" text-anchor="middle" textLength="10.5" lengthAdjust="spacingAndGlyphs" fill="#111">25</text>
<rect x="752.5" y="528.2" width="19" height="9.6" fill="#fff"/>
<text x="762.0" y="536.5" font-size="10" text-anchor="middle" textLength="16.5" lengthAdjust="spacingAndGlyphs" fill="#111">156</text>
<rect x="765.0" y="516.7" width="13" height="9.6" fill="#fff"/>
<text x="771.5" y="525.0" font-size="10" text-anchor="middle" textLength="10.5" lengthAdjust="spacingAndGlyphs" fill="#111">20</text>
<rect x="593.5" y="548.2" width="19" height="9.6" fill="#fff"/>
<text x="603.0" y="556.5" font-size="10" text-anchor="middle" textLength="16.5" lengthAdjust="spacingAndGlyphs" fill="#111">154</text>
<rect x="607.5" y="556.7" width="13" height="9.6" fill="#fff"/>
<text x="614.0" y="565.0" font-size="10" text-anchor="middle" textLength="10.5" lengthAdjust="spacingAndGlyphs" fill="#111">30</text>
<rect x="613.0" y="562.7" width="13" height="9.6" fill="#fff"/>
<text x="619.5" y="571.0" font-size="10" text-anchor="middle" textLength="10.5" lengthAdjust="spacingAndGlyphs" fill="#111">30</text>
<rect x="585.5" y="564.2" width="19" height="9.6" fill="#fff"/>
<text x="595.0" y="572.5" font-size="10" text-anchor="middle" textLength="16.5" lengthAdjust="spacingAndGlyphs" fill="#111">154</text>
<rect x="570.5" y="567.2" width="19" height="9.6" fill="#fff"/>
<text x="580.0" y="575.5" font-size="10" text-anchor="middle" textLength="16.5" lengthAdjust="spacingAndGlyphs" fill="#111">154</text>
<rect x="596.5" y="569.2" width="19" height="9.6" fill="#fff"/>
<text x="606.0" y="577.5" font-size="10" text-anchor="middle" textLength="16.5" lengthAdjust="spacingAndGlyphs" fill="#111">154</text>
<rect x="601.5" y="541.2" width="13" height="9.6" fill="#fff"/>
<text x="608.0" y="549.5" font-size="10" text-anchor="middle" textLength="10.5" lengthAdjust="spacingAndGlyphs" fill="#111">30</text>
</g>
<rect x="19" y="55" width="758" height="522" fill="none" stroke="#000" stroke-width="2"/>
<text x="19" y="25.3" font-size="16.3" textLength="207.7" lengthAdjust="spacingAndGlyphs">Saída: Qua, 26Ago2015 12Z</text>
<text x="377.3" y="25.3" font-size="16.2" textLength="36" lengthAdjust="spacingAndGlyphs">+78h</text>
<text x="568.7" y="25.3" font-size="16.2" textLength="206" lengthAdjust="spacingAndGlyphs">Válido: Sáb, 29Ago2015 18Z</text>
<text x="171.7" y="48.6" font-size="17.5" textLength="453" lengthAdjust="spacingAndGlyphs">850 hPa: Temperatura (ºC), Geopotencial (gdm) e Vento</text>
<path d="M780,129.5 L785.65,117.8 L791.3,129.5Z" fill="#f01896" stroke="#000" stroke-width="1" stroke-linejoin="miter"/>
<rect x="780" y="129.5" width="11.299999999999955" height="11" fill="#e61487" stroke="#000" stroke-width="1"/>
<rect x="780" y="140.5" width="11.299999999999955" height="11" fill="#d80a76" stroke="#000" stroke-width="1"/>
<rect x="780" y="151.5" width="11.299999999999955" height="11" fill="#c40064" stroke="#000" stroke-width="1"/>
<rect x="780" y="162.5" width="11.299999999999955" height="11" fill="#ae0050" stroke="#000" stroke-width="1"/>
<rect x="780" y="173.5" width="11.299999999999955" height="11" fill="#a0002d" stroke="#000" stroke-width="1"/>
<rect x="780" y="184.5" width="11.299999999999955" height="11" fill="#b90000" stroke="#000" stroke-width="1"/>
<rect x="780" y="195.5" width="11.299999999999955" height="11" fill="#c8190a" stroke="#000" stroke-width="1"/>
<rect x="780" y="206.5" width="11.299999999999955" height="11" fill="#dc3714" stroke="#000" stroke-width="1"/>
<rect x="780" y="217.5" width="11.299999999999955" height="11" fill="#f0641e" stroke="#000" stroke-width="1"/>
<rect x="780" y="228.5" width="11.299999999999955" height="11" fill="#ff8200" stroke="#000" stroke-width="1"/>
<rect x="780" y="239.5" width="11.299999999999955" height="11" fill="#ff9600" stroke="#000" stroke-width="1"/>
<rect x="780" y="250.5" width="11.299999999999955" height="11" fill="#ffaf00" stroke="#000" stroke-width="1"/>
<rect x="780" y="261.5" width="11.299999999999955" height="11" fill="#ffc300" stroke="#000" stroke-width="1"/>
<rect x="780" y="272.5" width="11.299999999999955" height="11" fill="#ffd700" stroke="#000" stroke-width="1"/>
<rect x="780" y="283.5" width="11.299999999999955" height="11" fill="#ffeb00" stroke="#000" stroke-width="1"/>
<rect x="780" y="294.5" width="11.299999999999955" height="11" fill="#ffff64" stroke="#000" stroke-width="1"/>
<rect x="780" y="305.5" width="11.299999999999955" height="11" fill="#82e650" stroke="#000" stroke-width="1"/>
<rect x="780" y="316.5" width="11.299999999999955" height="11" fill="#78dc3c" stroke="#000" stroke-width="1"/>
<rect x="780" y="327.5" width="11.299999999999955" height="11" fill="#64c832" stroke="#000" stroke-width="1"/>
<rect x="780" y="338.5" width="11.299999999999955" height="11" fill="#50b928" stroke="#000" stroke-width="1"/>
<rect x="780" y="349.5" width="11.299999999999955" height="11" fill="#50be8c" stroke="#000" stroke-width="1"/>
<rect x="780" y="360.5" width="11.299999999999955" height="11" fill="#78b4fa" stroke="#000" stroke-width="1"/>
<rect x="780" y="371.5" width="11.299999999999955" height="11" fill="#64a0eb" stroke="#000" stroke-width="1"/>
<rect x="780" y="382.5" width="11.299999999999955" height="11" fill="#508ce1" stroke="#000" stroke-width="1"/>
<rect x="780" y="393.5" width="11.299999999999955" height="11" fill="#3c78d2" stroke="#000" stroke-width="1"/>
<rect x="780" y="404.5" width="11.299999999999955" height="11" fill="#2864c8" stroke="#000" stroke-width="1"/>
<rect x="780" y="415.5" width="11.299999999999955" height="11" fill="#7828dc" stroke="#000" stroke-width="1"/>
<rect x="780" y="426.5" width="11.299999999999955" height="11" fill="#8c3cd7" stroke="#000" stroke-width="1"/>
<rect x="780" y="437.5" width="11.299999999999955" height="11" fill="#a050c8" stroke="#000" stroke-width="1"/>
<rect x="780" y="448.5" width="11.299999999999955" height="11" fill="#be3cbe" stroke="#000" stroke-width="1"/>
<rect x="780" y="459.5" width="11.299999999999955" height="11" fill="#aa1eaa" stroke="#000" stroke-width="1"/>
<rect x="780" y="470.5" width="11.299999999999955" height="11" fill="#820082" stroke="#000" stroke-width="1"/>
<rect x="780" y="481.5" width="11.299999999999955" height="11" fill="#640064" stroke="#000" stroke-width="1"/>
<rect x="780" y="492.5" width="11.299999999999955" height="11" fill="#500050" stroke="#000" stroke-width="1"/>
<path d="M780,503.5 L785.65,516.0 L791.3,503.5Z" fill="#3c0037" stroke="#000" stroke-width="1"/>
<text x="794" y="133.6" font-size="11.5">32</text>
<text x="794" y="144.6" font-size="11.5">30</text>
<text x="794" y="155.6" font-size="11.5">28</text>
<text x="794" y="166.6" font-size="11.5">26</text>
<text x="794" y="177.6" font-size="11.5">24</text>
<text x="794" y="188.6" font-size="11.5">22</text>
<text x="794" y="199.6" font-size="11.5">20</text>
<text x="794" y="210.6" font-size="11.5">18</text>
<text x="794" y="221.6" font-size="11.5">16</text>
<text x="794" y="232.6" font-size="11.5">14</text>
<text x="794" y="243.6" font-size="11.5">12</text>
<text x="794" y="254.6" font-size="11.5">10</text>
<text x="794" y="265.6" font-size="11.5">8</text>
<text x="794" y="276.6" font-size="11.5">6</text>
<text x="794" y="287.6" font-size="11.5">4</text>
<text x="794" y="298.6" font-size="11.5">2</text>
<text x="794" y="309.6" font-size="11.5">0</text>
<text x="794" y="320.6" font-size="11.5">-2</text>
<text x="794" y="331.6" font-size="11.5">-4</text>
<text x="794" y="342.6" font-size="11.5">-6</text>
<text x="794" y="353.6" font-size="11.5">-8</text>
<text x="794" y="364.6" font-size="11.5">-10</text>
<text x="794" y="375.6" font-size="11.5">-12</text>
<text x="794" y="386.6" font-size="11.5">-14</text>
<text x="794" y="397.6" font-size="11.5">-16</text>
<text x="794" y="408.6" font-size="11.5">-18</text>
<text x="794" y="419.6" font-size="11.5">-20</text>
<text x="794" y="430.6" font-size="11.5">-22</text>
<text x="794" y="441.6" font-size="11.5">-24</text>
<text x="794" y="452.6" font-size="11.5">-26</text>
<text x="794" y="463.6" font-size="11.5">-28</text>
<text x="794" y="474.6" font-size="11.5">-30</text>
<text x="794" y="485.6" font-size="11.5">-32</text>
<text x="794" y="496.6" font-size="11.5">-34</text>
<text x="794" y="507.6" font-size="11.5">-36</text>
<g>
<circle cx="567.8" cy="594.6" r="16" fill="#2469b0"/>
<clipPath id="nc"><circle cx="567.8" cy="594.6" r="16"/></clipPath>
<g clip-path="url(#nc)"><g transform="translate(530,570) scale(0.1449)">
<path d="M140,120 L172,108 C195,150 225,185 256,200 C290,190 330,150 356,100 L385,125 C350,175 310,205 268,214 C250,220 232,222 218,216 C232,212 242,208 248,204 C215,195 175,160 140,120Z" fill="#fff"/>
<path d="M120,40 L400,40 L400,60 L356,100 C335,140 300,178 256,196 C222,180 192,146 170,108 L120,80Z" fill="#0a3a8c"/>
</g></g>
<text x="567.6" y="589" font-size="4.6" font-weight="bold" fill="#fff" text-anchor="middle" textLength="12" lengthAdjust="spacingAndGlyphs">NOAA</text>
</g>
<text x="593" y="600.4" font-size="18" textLength="33" lengthAdjust="spacingAndGlyphs" fill="#000">GFS</text>
<g transform="translate(128,576) scale(0.19324)" fill="none" stroke-linecap="round" stroke-linejoin="round">
<g stroke="#f5d418" stroke-width="11">
<path d="M435,28L435,48"/>
<path d="M396,36L414,56"/>
<path d="M478,34L460,54"/>
<path d="M388,150L408,128"/>
<path d="M435,136L435,160"/>
<path d="M468,130L480,152"/>
<path d="M380,92L396,92"/>
<ellipse cx="436" cy="90" rx="27" ry="22" stroke-width="14"/>
</g>
<g stroke="#4f72a8" stroke-width="15">
<path d="M40,72 C45,85 48,95 52,102 C58,85 66,72 74,68 C78,80 80,90 84,98 C90,82 98,68 108,64 C112,78 116,92 124,100 C130,98 136,92 142,88"/>
<path d="M150,90 C165,88 182,82 186,74 C180,64 164,66 154,80 C148,92 156,106 172,104 C182,103 192,98 200,92"/>
<path d="M272,28 C266,55 258,85 256,104 C262,106 270,102 278,98"/>
<path d="M214,76 C250,70 285,64 322,60"/>
<path d="M330,90 C345,88 362,82 366,74 C360,64 344,66 334,80 C328,92 336,108 352,106 C366,105 378,100 388,94"/>
<path d="M492,74 C490,105 488,140 486,170"/>
<path d="M492,88 C505,72 525,62 545,70 C558,80 548,100 528,106 C515,108 502,104 494,98"/>
<path d="M626,28 C620,55 610,85 606,104 C612,106 620,102 628,98"/>
<path d="M560,76 C600,70 645,64 690,60"/>
</g></g>
<text x="257.8" y="601.2" font-size="9.5" font-weight="bold" fill="#666" stroke="#666" stroke-width="0.4" textLength="21.5" lengthAdjust="spacingAndGlyphs">.com</text>
</svg></body></html>
